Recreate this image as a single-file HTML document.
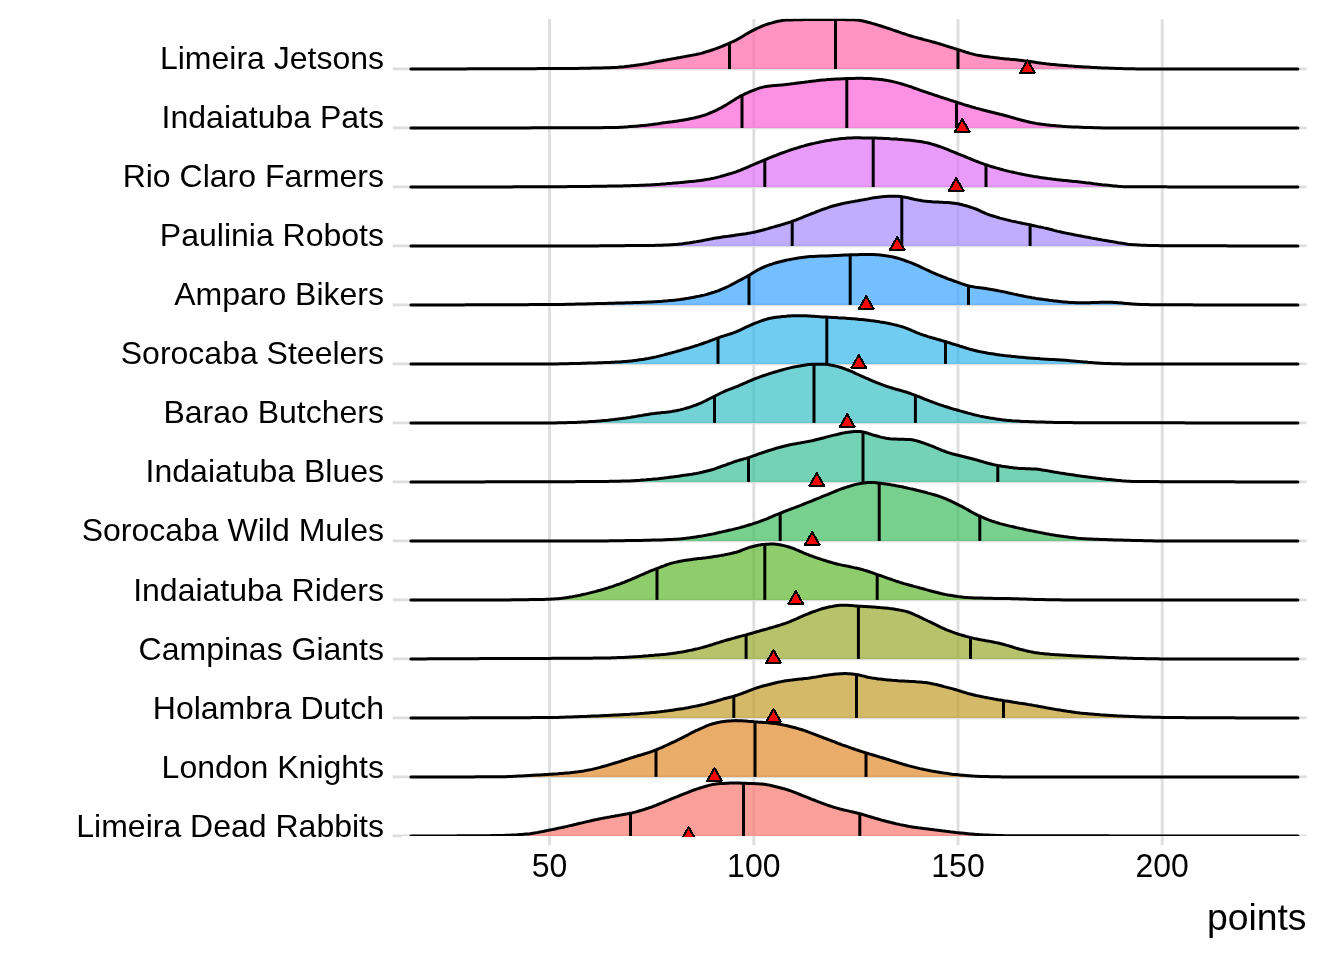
<!DOCTYPE html>
<html lang="en"><head><meta charset="utf-8"><title>points by team</title>
<style>html,body{margin:0;padding:0;background:#fff}body{width:1344px;height:960px;overflow:hidden}svg{display:block}text{font-family:"Liberation Sans",sans-serif;fill:#000}.yl{font-size:32px;text-anchor:end}.xl{font-size:32px;text-anchor:middle}.xt{font-size:37.33px;text-anchor:end}.g{stroke:#dedede;stroke-width:2.85;fill:none}.k{stroke:#000;stroke-width:3.0;fill:none;stroke-linejoin:round;stroke-linecap:butt}.t{fill:#f00;stroke:#000;stroke-width:2.1;stroke-linejoin:round}.kr{stroke-linecap:round}</style></head><body>
<svg width="1344" height="960" viewBox="0 0 1344 960">
<rect width="1344" height="960" fill="#fff"/>
<defs><clipPath id="p"><rect x="402.0" y="18.67" width="904.75" height="817.3"/></clipPath><clipPath id="q"><rect x="402.0" y="18" width="904.75" height="819"/></clipPath></defs>
<path class="g" d="M549.5 836 V845.3"/>
<path class="g" d="M753.8 836 V845.3"/>
<path class="g" d="M958 836 V845.3"/>
<path class="g" d="M1162.2 836 V845.3"/>
<path class="g" d="M392.7 68.9 H402"/>
<path class="g" d="M392.7 127.9 H402"/>
<path class="g" d="M392.7 186.9 H402"/>
<path class="g" d="M392.7 245.9 H402"/>
<path class="g" d="M392.7 304.9 H402"/>
<path class="g" d="M392.7 363.9 H402"/>
<path class="g" d="M392.7 422.9 H402"/>
<path class="g" d="M392.7 481.9 H402"/>
<path class="g" d="M392.7 540.9 H402"/>
<path class="g" d="M392.7 599.9 H402"/>
<path class="g" d="M392.7 658.9 H402"/>
<path class="g" d="M392.7 717.9 H402"/>
<path class="g" d="M392.7 776.9 H402"/>
<path class="g" d="M392.7 835.9 H402"/>
<g clip-path="url(#p)">
<path class="g" d="M549.5 18.7 V836"/>
<path class="g" d="M753.8 18.7 V836"/>
<path class="g" d="M958 18.7 V836"/>
<path class="g" d="M1162.2 18.7 V836"/>
<path class="g" d="M402 68.9 H1306.8"/>
<path class="g" d="M402 127.9 H1306.8"/>
<path class="g" d="M402 186.9 H1306.8"/>
<path class="g" d="M402 245.9 H1306.8"/>
<path class="g" d="M402 304.9 H1306.8"/>
<path class="g" d="M402 363.9 H1306.8"/>
<path class="g" d="M402 422.9 H1306.8"/>
<path class="g" d="M402 481.9 H1306.8"/>
<path class="g" d="M402 540.9 H1306.8"/>
<path class="g" d="M402 599.9 H1306.8"/>
<path class="g" d="M402 658.9 H1306.8"/>
<path class="g" d="M402 717.9 H1306.8"/>
<path class="g" d="M402 776.9 H1306.8"/>
<path class="g" d="M402 835.9 H1306.8"/>
<g>
<path d="M410.9 68.9 L454 68.9 L456 68.9 L458 68.9 L460 68.9 L462 68.9 L464 68.9 L466 68.9 L468 68.8 L470 68.8 L472 68.8 L474 68.8 L476 68.8 L478 68.8 L480 68.8 L482 68.8 L484 68.8 L486 68.8 L488 68.8 L490 68.8 L492 68.8 L494 68.8 L496 68.8 L498 68.8 L500 68.8 L502 68.8 L504 68.8 L506 68.8 L508 68.8 L510 68.7 L512 68.7 L514 68.7 L516 68.7 L518 68.7 L520 68.7 L522 68.7 L524 68.7 L526 68.7 L528 68.7 L530 68.7 L532 68.7 L534 68.7 L536 68.7 L538 68.6 L540 68.6 L542 68.6 L544 68.6 L546 68.6 L548 68.6 L550 68.6 L552 68.6 L554 68.6 L556 68.6 L558 68.6 L560 68.5 L562 68.5 L564 68.5 L566 68.5 L568 68.5 L570 68.5 L572 68.4 L574 68.4 L576 68.4 L578 68.4 L580 68.3 L582 68.3 L584 68.3 L586 68.2 L588 68.2 L590 68.2 L592 68.1 L594 68.1 L596 68 L598 68 L600 67.9 L602 67.9 L604 67.8 L606 67.8 L608 67.7 L610 67.7 L612 67.6 L614 67.5 L616 67.4 L618 67.3 L620 67.1 L622 67 L624 66.8 L626 66.5 L628 66.3 L630 66.1 L632 65.8 L634 65.6 L636 65.3 L638 65 L640 64.7 L642 64.4 L644 64.1 L646 63.7 L648 63.4 L650 63 L652 62.6 L654 62.2 L656 61.8 L658 61.4 L660 61.1 L662 60.7 L664 60.3 L666 60 L668 59.6 L670 59.3 L672 58.9 L674 58.6 L676 58.2 L678 57.8 L680 57.5 L682 57.1 L684 56.8 L686 56.4 L688 56 L690 55.6 L692 55.3 L694 54.9 L696 54.5 L698 54 L700 53.6 L702 53.1 L704 52.5 L706 51.9 L708 51.3 L710 50.7 L712 50 L714 49.3 L716 48.6 L718 47.9 L720 47.1 L722 46.3 L724 45.5 L726 44.7 L728 43.8 L730 42.9 L732 42 L734 41.1 L736 40.1 L738 39 L740 37.9 L742 36.7 L744 35.5 L746 34.3 L748 33.1 L750 32 L752 30.9 L754 29.9 L756 28.9 L758 28 L760 27.1 L762 26.2 L764 25.4 L766 24.7 L768 24 L770 23.4 L772 22.9 L774 22.3 L776 21.8 L778 21.3 L780 20.9 L782 20.6 L784 20.3 L786 20.1 L788 20 L790 20 L792 19.9 L794 19.8 L796 19.8 L798 19.7 L800 19.7 L802 19.7 L804 19.6 L806 19.6 L808 19.6 L810 19.6 L812 19.6 L814 19.6 L816 19.6 L818 19.6 L820 19.6 L822 19.6 L824 19.6 L826 19.6 L828 19.6 L830 19.6 L832 19.6 L834 19.6 L836 19.6 L838 19.6 L840 19.6 L842 19.6 L844 19.6 L846 19.7 L848 19.7 L850 19.7 L852 19.8 L854 19.8 L856 19.9 L858 20.1 L860 20.4 L862 20.7 L864 21.2 L866 21.7 L868 22.3 L870 22.8 L872 23.4 L874 23.9 L876 24.5 L878 25.1 L880 25.7 L882 26.3 L884 27 L886 27.6 L888 28.3 L890 28.9 L892 29.6 L894 30.3 L896 31 L898 31.7 L900 32.4 L902 33.1 L904 33.7 L906 34.4 L908 35.1 L910 35.7 L912 36.3 L914 36.9 L916 37.4 L918 38 L920 38.5 L922 39 L924 39.6 L926 40.1 L928 40.6 L930 41.1 L932 41.7 L934 42.2 L936 42.8 L938 43.4 L940 44 L942 44.6 L944 45.2 L946 45.9 L948 46.5 L950 47.1 L952 47.7 L954 48.4 L956 49 L958 49.6 L960 50.2 L962 50.9 L964 51.5 L966 52.2 L968 52.8 L970 53.4 L972 53.9 L974 54.4 L976 54.9 L978 55.3 L980 55.6 L982 55.9 L984 56.2 L986 56.5 L988 56.8 L990 57.1 L992 57.3 L994 57.6 L996 57.8 L998 58 L1000 58.3 L1002 58.5 L1004 58.7 L1006 58.9 L1008 59.1 L1010 59.3 L1012 59.4 L1014 59.6 L1016 59.8 L1018 60 L1020 60.2 L1022 60.4 L1024 60.7 L1026 60.9 L1028 61.2 L1030 61.5 L1032 61.8 L1034 62.1 L1036 62.4 L1038 62.7 L1040 63 L1042 63.3 L1044 63.5 L1046 63.8 L1048 64 L1050 64.2 L1052 64.4 L1054 64.6 L1056 64.8 L1058 65 L1060 65.2 L1062 65.3 L1064 65.5 L1066 65.6 L1068 65.8 L1070 65.9 L1072 66.1 L1074 66.2 L1076 66.4 L1078 66.5 L1080 66.7 L1082 66.8 L1084 66.9 L1086 67 L1088 67.1 L1090 67.2 L1092 67.4 L1094 67.5 L1096 67.6 L1098 67.7 L1100 67.8 L1102 67.9 L1104 67.9 L1106 68 L1108 68.1 L1110 68.2 L1112 68.3 L1114 68.3 L1116 68.4 L1118 68.5 L1120 68.6 L1122 68.6 L1124 68.7 L1126 68.7 L1128 68.8 L1130 68.8 L1132 68.8 L1134 68.8 L1136 68.9 L1138 68.9 L1140 68.9 L1142 68.9 L1144 68.9 L1146 68.9 L1148 68.9 L1150 68.9 L1152 68.9 L1154 68.9 L1156 68.9 L1158 68.9 L1160 68.9 L1162 68.9 L1164 68.9 L1297.9 68.9 L1297.9 68.9 L410.9 68.9 Z" fill="#FF66A8" fill-opacity="0.7"/>
<path class="k" d="M729.5 68.9 V43.1"/>
<path class="k" d="M835.5 68.9 V19.6"/>
<path class="k" d="M958 68.9 V49.6"/>
<path class="k kr" d="M410.9 68.9 L454 68.9 L456 68.9 L458 68.9 L460 68.9 L462 68.9 L464 68.9 L466 68.9 L468 68.8 L470 68.8 L472 68.8 L474 68.8 L476 68.8 L478 68.8 L480 68.8 L482 68.8 L484 68.8 L486 68.8 L488 68.8 L490 68.8 L492 68.8 L494 68.8 L496 68.8 L498 68.8 L500 68.8 L502 68.8 L504 68.8 L506 68.8 L508 68.8 L510 68.7 L512 68.7 L514 68.7 L516 68.7 L518 68.7 L520 68.7 L522 68.7 L524 68.7 L526 68.7 L528 68.7 L530 68.7 L532 68.7 L534 68.7 L536 68.7 L538 68.6 L540 68.6 L542 68.6 L544 68.6 L546 68.6 L548 68.6 L550 68.6 L552 68.6 L554 68.6 L556 68.6 L558 68.6 L560 68.5 L562 68.5 L564 68.5 L566 68.5 L568 68.5 L570 68.5 L572 68.4 L574 68.4 L576 68.4 L578 68.4 L580 68.3 L582 68.3 L584 68.3 L586 68.2 L588 68.2 L590 68.2 L592 68.1 L594 68.1 L596 68 L598 68 L600 67.9 L602 67.9 L604 67.8 L606 67.8 L608 67.7 L610 67.7 L612 67.6 L614 67.5 L616 67.4 L618 67.3 L620 67.1 L622 67 L624 66.8 L626 66.5 L628 66.3 L630 66.1 L632 65.8 L634 65.6 L636 65.3 L638 65 L640 64.7 L642 64.4 L644 64.1 L646 63.7 L648 63.4 L650 63 L652 62.6 L654 62.2 L656 61.8 L658 61.4 L660 61.1 L662 60.7 L664 60.3 L666 60 L668 59.6 L670 59.3 L672 58.9 L674 58.6 L676 58.2 L678 57.8 L680 57.5 L682 57.1 L684 56.8 L686 56.4 L688 56 L690 55.6 L692 55.3 L694 54.9 L696 54.5 L698 54 L700 53.6 L702 53.1 L704 52.5 L706 51.9 L708 51.3 L710 50.7 L712 50 L714 49.3 L716 48.6 L718 47.9 L720 47.1 L722 46.3 L724 45.5 L726 44.7 L728 43.8 L730 42.9 L732 42 L734 41.1 L736 40.1 L738 39 L740 37.9 L742 36.7 L744 35.5 L746 34.3 L748 33.1 L750 32 L752 30.9 L754 29.9 L756 28.9 L758 28 L760 27.1 L762 26.2 L764 25.4 L766 24.7 L768 24 L770 23.4 L772 22.9 L774 22.3 L776 21.8 L778 21.3 L780 20.9 L782 20.6 L784 20.3 L786 20.1 L788 20 L790 20 L792 19.9 L794 19.8 L796 19.8 L798 19.7 L800 19.7 L802 19.7 L804 19.6 L806 19.6 L808 19.6 L810 19.6 L812 19.6 L814 19.6 L816 19.6 L818 19.6 L820 19.6 L822 19.6 L824 19.6 L826 19.6 L828 19.6 L830 19.6 L832 19.6 L834 19.6 L836 19.6 L838 19.6 L840 19.6 L842 19.6 L844 19.6 L846 19.7 L848 19.7 L850 19.7 L852 19.8 L854 19.8 L856 19.9 L858 20.1 L860 20.4 L862 20.7 L864 21.2 L866 21.7 L868 22.3 L870 22.8 L872 23.4 L874 23.9 L876 24.5 L878 25.1 L880 25.7 L882 26.3 L884 27 L886 27.6 L888 28.3 L890 28.9 L892 29.6 L894 30.3 L896 31 L898 31.7 L900 32.4 L902 33.1 L904 33.7 L906 34.4 L908 35.1 L910 35.7 L912 36.3 L914 36.9 L916 37.4 L918 38 L920 38.5 L922 39 L924 39.6 L926 40.1 L928 40.6 L930 41.1 L932 41.7 L934 42.2 L936 42.8 L938 43.4 L940 44 L942 44.6 L944 45.2 L946 45.9 L948 46.5 L950 47.1 L952 47.7 L954 48.4 L956 49 L958 49.6 L960 50.2 L962 50.9 L964 51.5 L966 52.2 L968 52.8 L970 53.4 L972 53.9 L974 54.4 L976 54.9 L978 55.3 L980 55.6 L982 55.9 L984 56.2 L986 56.5 L988 56.8 L990 57.1 L992 57.3 L994 57.6 L996 57.8 L998 58 L1000 58.3 L1002 58.5 L1004 58.7 L1006 58.9 L1008 59.1 L1010 59.3 L1012 59.4 L1014 59.6 L1016 59.8 L1018 60 L1020 60.2 L1022 60.4 L1024 60.7 L1026 60.9 L1028 61.2 L1030 61.5 L1032 61.8 L1034 62.1 L1036 62.4 L1038 62.7 L1040 63 L1042 63.3 L1044 63.5 L1046 63.8 L1048 64 L1050 64.2 L1052 64.4 L1054 64.6 L1056 64.8 L1058 65 L1060 65.2 L1062 65.3 L1064 65.5 L1066 65.6 L1068 65.8 L1070 65.9 L1072 66.1 L1074 66.2 L1076 66.4 L1078 66.5 L1080 66.7 L1082 66.8 L1084 66.9 L1086 67 L1088 67.1 L1090 67.2 L1092 67.4 L1094 67.5 L1096 67.6 L1098 67.7 L1100 67.8 L1102 67.9 L1104 67.9 L1106 68 L1108 68.1 L1110 68.2 L1112 68.3 L1114 68.3 L1116 68.4 L1118 68.5 L1120 68.6 L1122 68.6 L1124 68.7 L1126 68.7 L1128 68.8 L1130 68.8 L1132 68.8 L1134 68.8 L1136 68.9 L1138 68.9 L1140 68.9 L1142 68.9 L1144 68.9 L1146 68.9 L1148 68.9 L1150 68.9 L1152 68.9 L1154 68.9 L1156 68.9 L1158 68.9 L1160 68.9 L1162 68.9 L1164 68.9 L1297.9 68.9"/>
</g>
<g>
<path d="M410.9 127.9 L504 127.9 L506 127.9 L508 127.9 L510 127.9 L512 127.9 L514 127.9 L516 127.9 L518 127.9 L520 127.9 L522 127.9 L524 127.9 L526 127.9 L528 127.9 L530 127.9 L532 127.8 L534 127.8 L536 127.8 L538 127.8 L540 127.8 L542 127.8 L544 127.8 L546 127.8 L548 127.8 L550 127.8 L552 127.8 L554 127.8 L556 127.8 L558 127.8 L560 127.8 L562 127.8 L564 127.8 L566 127.8 L568 127.8 L570 127.8 L572 127.8 L574 127.8 L576 127.8 L578 127.8 L580 127.8 L582 127.8 L584 127.8 L586 127.8 L588 127.8 L590 127.7 L592 127.7 L594 127.7 L596 127.7 L598 127.7 L600 127.7 L602 127.7 L604 127.6 L606 127.6 L608 127.6 L610 127.6 L612 127.6 L614 127.5 L616 127.5 L618 127.4 L620 127.3 L622 127.2 L624 127.1 L626 126.9 L628 126.8 L630 126.6 L632 126.5 L634 126.3 L636 126.2 L638 126 L640 125.8 L642 125.6 L644 125.4 L646 125.2 L648 125 L650 124.7 L652 124.5 L654 124.2 L656 123.9 L658 123.7 L660 123.4 L662 123.1 L664 122.8 L666 122.6 L668 122.3 L670 122 L672 121.8 L674 121.5 L676 121.2 L678 120.9 L680 120.6 L682 120.2 L684 119.9 L686 119.6 L688 119.2 L690 118.8 L692 118.4 L694 118 L696 117.5 L698 117 L700 116.5 L702 115.9 L704 115.3 L706 114.6 L708 113.8 L710 113 L712 112.2 L714 111.3 L716 110.4 L718 109.4 L720 108.3 L722 107.3 L724 106.1 L726 105 L728 103.8 L730 102.5 L732 101.2 L734 100 L736 98.7 L738 97.5 L740 96.4 L742 95.4 L744 94.4 L746 93.4 L748 92.6 L750 91.7 L752 90.9 L754 90.1 L756 89.3 L758 88.6 L760 87.9 L762 87.4 L764 86.9 L766 86.5 L768 86.2 L770 85.9 L772 85.7 L774 85.5 L776 85.4 L778 85.2 L780 85.1 L782 84.9 L784 84.7 L786 84.5 L788 84.3 L790 84.1 L792 83.8 L794 83.6 L796 83.3 L798 83 L800 82.7 L802 82.4 L804 82.2 L806 81.9 L808 81.7 L810 81.4 L812 81.2 L814 81 L816 80.8 L818 80.5 L820 80.3 L822 80.1 L824 79.9 L826 79.8 L828 79.6 L830 79.4 L832 79.3 L834 79.2 L836 79.1 L838 79 L840 78.9 L842 78.8 L844 78.7 L846 78.6 L848 78.6 L850 78.5 L852 78.4 L854 78.4 L856 78.3 L858 78.3 L860 78.3 L862 78.3 L864 78.4 L866 78.4 L868 78.5 L870 78.6 L872 78.7 L874 78.9 L876 79.1 L878 79.2 L880 79.4 L882 79.6 L884 79.9 L886 80.2 L888 80.6 L890 81 L892 81.4 L894 81.9 L896 82.4 L898 82.9 L900 83.4 L902 84 L904 84.6 L906 85.2 L908 85.9 L910 86.5 L912 87.2 L914 88 L916 88.7 L918 89.4 L920 90.1 L922 90.8 L924 91.5 L926 92.1 L928 92.8 L930 93.5 L932 94.1 L934 94.8 L936 95.5 L938 96.1 L940 96.8 L942 97.5 L944 98.1 L946 98.8 L948 99.4 L950 100.1 L952 100.7 L954 101.4 L956 102 L958 102.7 L960 103.3 L962 103.9 L964 104.6 L966 105.2 L968 105.8 L970 106.4 L972 107 L974 107.5 L976 108.1 L978 108.6 L980 109.1 L982 109.7 L984 110.2 L986 110.7 L988 111.2 L990 111.7 L992 112.2 L994 112.7 L996 113.2 L998 113.7 L1000 114.2 L1002 114.7 L1004 115.2 L1006 115.8 L1008 116.3 L1010 116.9 L1012 117.5 L1014 118 L1016 118.6 L1018 119.2 L1020 119.8 L1022 120.3 L1024 120.8 L1026 121.3 L1028 121.7 L1030 122.2 L1032 122.6 L1034 123 L1036 123.4 L1038 123.7 L1040 124 L1042 124.3 L1044 124.5 L1046 124.8 L1048 125 L1050 125.2 L1052 125.4 L1054 125.6 L1056 125.8 L1058 126 L1060 126.1 L1062 126.3 L1064 126.4 L1066 126.6 L1068 126.7 L1070 126.8 L1072 126.9 L1074 127 L1076 127 L1078 127.1 L1080 127.2 L1082 127.3 L1084 127.4 L1086 127.4 L1088 127.5 L1090 127.6 L1092 127.6 L1094 127.7 L1096 127.7 L1098 127.8 L1100 127.8 L1102 127.9 L1104 127.9 L1297.9 127.9 L1297.9 127.9 L410.9 127.9 Z" fill="#FB61D7" fill-opacity="0.7"/>
<path class="k" d="M742 127.9 V95.4"/>
<path class="k" d="M846.8 127.9 V78.6"/>
<path class="k" d="M956.5 127.9 V102.2"/>
<path class="k kr" d="M410.9 127.9 L504 127.9 L506 127.9 L508 127.9 L510 127.9 L512 127.9 L514 127.9 L516 127.9 L518 127.9 L520 127.9 L522 127.9 L524 127.9 L526 127.9 L528 127.9 L530 127.9 L532 127.8 L534 127.8 L536 127.8 L538 127.8 L540 127.8 L542 127.8 L544 127.8 L546 127.8 L548 127.8 L550 127.8 L552 127.8 L554 127.8 L556 127.8 L558 127.8 L560 127.8 L562 127.8 L564 127.8 L566 127.8 L568 127.8 L570 127.8 L572 127.8 L574 127.8 L576 127.8 L578 127.8 L580 127.8 L582 127.8 L584 127.8 L586 127.8 L588 127.8 L590 127.7 L592 127.7 L594 127.7 L596 127.7 L598 127.7 L600 127.7 L602 127.7 L604 127.6 L606 127.6 L608 127.6 L610 127.6 L612 127.6 L614 127.5 L616 127.5 L618 127.4 L620 127.3 L622 127.2 L624 127.1 L626 126.9 L628 126.8 L630 126.6 L632 126.5 L634 126.3 L636 126.2 L638 126 L640 125.8 L642 125.6 L644 125.4 L646 125.2 L648 125 L650 124.7 L652 124.5 L654 124.2 L656 123.9 L658 123.7 L660 123.4 L662 123.1 L664 122.8 L666 122.6 L668 122.3 L670 122 L672 121.8 L674 121.5 L676 121.2 L678 120.9 L680 120.6 L682 120.2 L684 119.9 L686 119.6 L688 119.2 L690 118.8 L692 118.4 L694 118 L696 117.5 L698 117 L700 116.5 L702 115.9 L704 115.3 L706 114.6 L708 113.8 L710 113 L712 112.2 L714 111.3 L716 110.4 L718 109.4 L720 108.3 L722 107.3 L724 106.1 L726 105 L728 103.8 L730 102.5 L732 101.2 L734 100 L736 98.7 L738 97.5 L740 96.4 L742 95.4 L744 94.4 L746 93.4 L748 92.6 L750 91.7 L752 90.9 L754 90.1 L756 89.3 L758 88.6 L760 87.9 L762 87.4 L764 86.9 L766 86.5 L768 86.2 L770 85.9 L772 85.7 L774 85.5 L776 85.4 L778 85.2 L780 85.1 L782 84.9 L784 84.7 L786 84.5 L788 84.3 L790 84.1 L792 83.8 L794 83.6 L796 83.3 L798 83 L800 82.7 L802 82.4 L804 82.2 L806 81.9 L808 81.7 L810 81.4 L812 81.2 L814 81 L816 80.8 L818 80.5 L820 80.3 L822 80.1 L824 79.9 L826 79.8 L828 79.6 L830 79.4 L832 79.3 L834 79.2 L836 79.1 L838 79 L840 78.9 L842 78.8 L844 78.7 L846 78.6 L848 78.6 L850 78.5 L852 78.4 L854 78.4 L856 78.3 L858 78.3 L860 78.3 L862 78.3 L864 78.4 L866 78.4 L868 78.5 L870 78.6 L872 78.7 L874 78.9 L876 79.1 L878 79.2 L880 79.4 L882 79.6 L884 79.9 L886 80.2 L888 80.6 L890 81 L892 81.4 L894 81.9 L896 82.4 L898 82.9 L900 83.4 L902 84 L904 84.6 L906 85.2 L908 85.9 L910 86.5 L912 87.2 L914 88 L916 88.7 L918 89.4 L920 90.1 L922 90.8 L924 91.5 L926 92.1 L928 92.8 L930 93.5 L932 94.1 L934 94.8 L936 95.5 L938 96.1 L940 96.8 L942 97.5 L944 98.1 L946 98.8 L948 99.4 L950 100.1 L952 100.7 L954 101.4 L956 102 L958 102.7 L960 103.3 L962 103.9 L964 104.6 L966 105.2 L968 105.8 L970 106.4 L972 107 L974 107.5 L976 108.1 L978 108.6 L980 109.1 L982 109.7 L984 110.2 L986 110.7 L988 111.2 L990 111.7 L992 112.2 L994 112.7 L996 113.2 L998 113.7 L1000 114.2 L1002 114.7 L1004 115.2 L1006 115.8 L1008 116.3 L1010 116.9 L1012 117.5 L1014 118 L1016 118.6 L1018 119.2 L1020 119.8 L1022 120.3 L1024 120.8 L1026 121.3 L1028 121.7 L1030 122.2 L1032 122.6 L1034 123 L1036 123.4 L1038 123.7 L1040 124 L1042 124.3 L1044 124.5 L1046 124.8 L1048 125 L1050 125.2 L1052 125.4 L1054 125.6 L1056 125.8 L1058 126 L1060 126.1 L1062 126.3 L1064 126.4 L1066 126.6 L1068 126.7 L1070 126.8 L1072 126.9 L1074 127 L1076 127 L1078 127.1 L1080 127.2 L1082 127.3 L1084 127.4 L1086 127.4 L1088 127.5 L1090 127.6 L1092 127.6 L1094 127.7 L1096 127.7 L1098 127.8 L1100 127.8 L1102 127.9 L1104 127.9 L1297.9 127.9"/>
</g>
<g>
<path d="M410.9 186.9 L492 186.9 L494 186.9 L496 186.9 L498 186.9 L500 186.9 L502 186.9 L504 186.9 L506 186.9 L508 186.9 L510 186.9 L512 186.9 L514 186.8 L516 186.8 L518 186.8 L520 186.8 L522 186.8 L524 186.8 L526 186.8 L528 186.8 L530 186.8 L532 186.8 L534 186.8 L536 186.8 L538 186.8 L540 186.8 L542 186.8 L544 186.8 L546 186.8 L548 186.8 L550 186.8 L552 186.8 L554 186.8 L556 186.8 L558 186.8 L560 186.7 L562 186.7 L564 186.7 L566 186.7 L568 186.6 L570 186.6 L572 186.6 L574 186.6 L576 186.5 L578 186.5 L580 186.5 L582 186.5 L584 186.4 L586 186.4 L588 186.4 L590 186.4 L592 186.3 L594 186.3 L596 186.3 L598 186.3 L600 186.2 L602 186.2 L604 186.2 L606 186.2 L608 186.1 L610 186.1 L612 186.1 L614 186 L616 186 L618 185.9 L620 185.9 L622 185.9 L624 185.8 L626 185.8 L628 185.7 L630 185.7 L632 185.6 L634 185.6 L636 185.5 L638 185.4 L640 185.3 L642 185.3 L644 185.2 L646 185.1 L648 185 L650 184.9 L652 184.8 L654 184.7 L656 184.5 L658 184.4 L660 184.3 L662 184.1 L664 183.9 L666 183.8 L668 183.6 L670 183.4 L672 183.3 L674 183.1 L676 182.9 L678 182.7 L680 182.6 L682 182.4 L684 182.2 L686 182 L688 181.8 L690 181.6 L692 181.4 L694 181.2 L696 181 L698 180.7 L700 180.5 L702 180.2 L704 179.9 L706 179.6 L708 179.2 L710 178.9 L712 178.5 L714 178.1 L716 177.6 L718 177.1 L720 176.6 L722 176 L724 175.5 L726 174.9 L728 174.3 L730 173.7 L732 173.1 L734 172.5 L736 171.8 L738 171 L740 170.3 L742 169.5 L744 168.7 L746 167.8 L748 167 L750 166.1 L752 165.2 L754 164.4 L756 163.5 L758 162.7 L760 161.8 L762 161 L764 160.1 L766 159.3 L768 158.5 L770 157.7 L772 156.8 L774 156 L776 155.3 L778 154.5 L780 153.7 L782 153 L784 152.3 L786 151.6 L788 150.9 L790 150.2 L792 149.5 L794 148.9 L796 148.3 L798 147.6 L800 147 L802 146.4 L804 145.9 L806 145.3 L808 144.8 L810 144.3 L812 143.8 L814 143.4 L816 142.9 L818 142.5 L820 142 L822 141.6 L824 141.2 L826 140.8 L828 140.5 L830 140.2 L832 139.8 L834 139.6 L836 139.3 L838 139.1 L840 138.8 L842 138.6 L844 138.4 L846 138.2 L848 138 L850 137.9 L852 137.9 L854 137.8 L856 137.8 L858 137.8 L860 137.8 L862 137.9 L864 137.9 L866 137.9 L868 137.9 L870 138 L872 138 L874 138.1 L876 138.1 L878 138.2 L880 138.3 L882 138.3 L884 138.4 L886 138.5 L888 138.6 L890 138.8 L892 138.9 L894 139 L896 139.1 L898 139.3 L900 139.4 L902 139.6 L904 139.7 L906 139.9 L908 140.1 L910 140.3 L912 140.5 L914 140.7 L916 141 L918 141.2 L920 141.5 L922 141.8 L924 142.2 L926 142.6 L928 143 L930 143.5 L932 144.1 L934 144.7 L936 145.3 L938 146 L940 146.7 L942 147.4 L944 148.1 L946 148.9 L948 149.7 L950 150.6 L952 151.4 L954 152.2 L956 153 L958 153.8 L960 154.6 L962 155.4 L964 156.2 L966 157 L968 157.9 L970 158.7 L972 159.5 L974 160.3 L976 161.1 L978 161.9 L980 162.7 L982 163.4 L984 164.1 L986 164.8 L988 165.4 L990 166.1 L992 166.7 L994 167.3 L996 167.9 L998 168.4 L1000 169 L1002 169.5 L1004 170.1 L1006 170.6 L1008 171.1 L1010 171.6 L1012 172 L1014 172.5 L1016 172.9 L1018 173.4 L1020 173.8 L1022 174.2 L1024 174.6 L1026 175 L1028 175.4 L1030 175.8 L1032 176.1 L1034 176.5 L1036 176.8 L1038 177.1 L1040 177.4 L1042 177.7 L1044 178 L1046 178.3 L1048 178.6 L1050 178.8 L1052 179.1 L1054 179.3 L1056 179.6 L1058 179.8 L1060 180 L1062 180.2 L1064 180.4 L1066 180.6 L1068 180.8 L1070 181 L1072 181.2 L1074 181.4 L1076 181.6 L1078 181.8 L1080 182 L1082 182.2 L1084 182.4 L1086 182.7 L1088 182.9 L1090 183.1 L1092 183.4 L1094 183.7 L1096 183.9 L1098 184.2 L1100 184.4 L1102 184.7 L1104 184.9 L1106 185.1 L1108 185.3 L1110 185.5 L1112 185.7 L1114 185.9 L1116 186.1 L1118 186.3 L1120 186.4 L1122 186.6 L1124 186.7 L1126 186.7 L1128 186.8 L1130 186.8 L1132 186.8 L1134 186.8 L1136 186.8 L1138 186.8 L1140 186.8 L1142 186.8 L1144 186.8 L1146 186.8 L1148 186.8 L1150 186.8 L1152 186.8 L1154 186.8 L1156 186.8 L1158 186.8 L1160 186.8 L1162 186.8 L1164 186.8 L1166 186.8 L1168 186.9 L1170 186.9 L1172 186.9 L1174 186.9 L1176 186.9 L1178 186.9 L1180 186.9 L1182 186.9 L1184 186.9 L1186 186.9 L1188 186.9 L1190 186.9 L1192 186.9 L1297.9 186.9 L1297.9 186.9 L410.9 186.9 Z" fill="#DF70F8" fill-opacity="0.7"/>
<path class="k" d="M764.8 186.9 V159.8"/>
<path class="k" d="M873.2 186.9 V138"/>
<path class="k" d="M986 186.9 V164.8"/>
<path class="k kr" d="M410.9 186.9 L492 186.9 L494 186.9 L496 186.9 L498 186.9 L500 186.9 L502 186.9 L504 186.9 L506 186.9 L508 186.9 L510 186.9 L512 186.9 L514 186.8 L516 186.8 L518 186.8 L520 186.8 L522 186.8 L524 186.8 L526 186.8 L528 186.8 L530 186.8 L532 186.8 L534 186.8 L536 186.8 L538 186.8 L540 186.8 L542 186.8 L544 186.8 L546 186.8 L548 186.8 L550 186.8 L552 186.8 L554 186.8 L556 186.8 L558 186.8 L560 186.7 L562 186.7 L564 186.7 L566 186.7 L568 186.6 L570 186.6 L572 186.6 L574 186.6 L576 186.5 L578 186.5 L580 186.5 L582 186.5 L584 186.4 L586 186.4 L588 186.4 L590 186.4 L592 186.3 L594 186.3 L596 186.3 L598 186.3 L600 186.2 L602 186.2 L604 186.2 L606 186.2 L608 186.1 L610 186.1 L612 186.1 L614 186 L616 186 L618 185.9 L620 185.9 L622 185.9 L624 185.8 L626 185.8 L628 185.7 L630 185.7 L632 185.6 L634 185.6 L636 185.5 L638 185.4 L640 185.3 L642 185.3 L644 185.2 L646 185.1 L648 185 L650 184.9 L652 184.8 L654 184.7 L656 184.5 L658 184.4 L660 184.3 L662 184.1 L664 183.9 L666 183.8 L668 183.6 L670 183.4 L672 183.3 L674 183.1 L676 182.9 L678 182.7 L680 182.6 L682 182.4 L684 182.2 L686 182 L688 181.8 L690 181.6 L692 181.4 L694 181.2 L696 181 L698 180.7 L700 180.5 L702 180.2 L704 179.9 L706 179.6 L708 179.2 L710 178.9 L712 178.5 L714 178.1 L716 177.6 L718 177.1 L720 176.6 L722 176 L724 175.5 L726 174.9 L728 174.3 L730 173.7 L732 173.1 L734 172.5 L736 171.8 L738 171 L740 170.3 L742 169.5 L744 168.7 L746 167.8 L748 167 L750 166.1 L752 165.2 L754 164.4 L756 163.5 L758 162.7 L760 161.8 L762 161 L764 160.1 L766 159.3 L768 158.5 L770 157.7 L772 156.8 L774 156 L776 155.3 L778 154.5 L780 153.7 L782 153 L784 152.3 L786 151.6 L788 150.9 L790 150.2 L792 149.5 L794 148.9 L796 148.3 L798 147.6 L800 147 L802 146.4 L804 145.9 L806 145.3 L808 144.8 L810 144.3 L812 143.8 L814 143.4 L816 142.9 L818 142.5 L820 142 L822 141.6 L824 141.2 L826 140.8 L828 140.5 L830 140.2 L832 139.8 L834 139.6 L836 139.3 L838 139.1 L840 138.8 L842 138.6 L844 138.4 L846 138.2 L848 138 L850 137.9 L852 137.9 L854 137.8 L856 137.8 L858 137.8 L860 137.8 L862 137.9 L864 137.9 L866 137.9 L868 137.9 L870 138 L872 138 L874 138.1 L876 138.1 L878 138.2 L880 138.3 L882 138.3 L884 138.4 L886 138.5 L888 138.6 L890 138.8 L892 138.9 L894 139 L896 139.1 L898 139.3 L900 139.4 L902 139.6 L904 139.7 L906 139.9 L908 140.1 L910 140.3 L912 140.5 L914 140.7 L916 141 L918 141.2 L920 141.5 L922 141.8 L924 142.2 L926 142.6 L928 143 L930 143.5 L932 144.1 L934 144.7 L936 145.3 L938 146 L940 146.7 L942 147.4 L944 148.1 L946 148.9 L948 149.7 L950 150.6 L952 151.4 L954 152.2 L956 153 L958 153.8 L960 154.6 L962 155.4 L964 156.2 L966 157 L968 157.9 L970 158.7 L972 159.5 L974 160.3 L976 161.1 L978 161.9 L980 162.7 L982 163.4 L984 164.1 L986 164.8 L988 165.4 L990 166.1 L992 166.7 L994 167.3 L996 167.9 L998 168.4 L1000 169 L1002 169.5 L1004 170.1 L1006 170.6 L1008 171.1 L1010 171.6 L1012 172 L1014 172.5 L1016 172.9 L1018 173.4 L1020 173.8 L1022 174.2 L1024 174.6 L1026 175 L1028 175.4 L1030 175.8 L1032 176.1 L1034 176.5 L1036 176.8 L1038 177.1 L1040 177.4 L1042 177.7 L1044 178 L1046 178.3 L1048 178.6 L1050 178.8 L1052 179.1 L1054 179.3 L1056 179.6 L1058 179.8 L1060 180 L1062 180.2 L1064 180.4 L1066 180.6 L1068 180.8 L1070 181 L1072 181.2 L1074 181.4 L1076 181.6 L1078 181.8 L1080 182 L1082 182.2 L1084 182.4 L1086 182.7 L1088 182.9 L1090 183.1 L1092 183.4 L1094 183.7 L1096 183.9 L1098 184.2 L1100 184.4 L1102 184.7 L1104 184.9 L1106 185.1 L1108 185.3 L1110 185.5 L1112 185.7 L1114 185.9 L1116 186.1 L1118 186.3 L1120 186.4 L1122 186.6 L1124 186.7 L1126 186.7 L1128 186.8 L1130 186.8 L1132 186.8 L1134 186.8 L1136 186.8 L1138 186.8 L1140 186.8 L1142 186.8 L1144 186.8 L1146 186.8 L1148 186.8 L1150 186.8 L1152 186.8 L1154 186.8 L1156 186.8 L1158 186.8 L1160 186.8 L1162 186.8 L1164 186.8 L1166 186.8 L1168 186.9 L1170 186.9 L1172 186.9 L1174 186.9 L1176 186.9 L1178 186.9 L1180 186.9 L1182 186.9 L1184 186.9 L1186 186.9 L1188 186.9 L1190 186.9 L1192 186.9 L1297.9 186.9"/>
</g>
<g>
<path d="M410.9 245.9 L564 245.9 L566 245.9 L568 245.9 L570 245.9 L572 245.9 L574 245.9 L576 245.9 L578 245.9 L580 245.9 L582 245.9 L584 245.9 L586 245.9 L588 245.9 L590 245.9 L592 245.9 L594 245.9 L596 245.9 L598 245.9 L600 245.8 L602 245.8 L604 245.8 L606 245.8 L608 245.8 L610 245.8 L612 245.8 L614 245.8 L616 245.7 L618 245.7 L620 245.7 L622 245.7 L624 245.7 L626 245.6 L628 245.6 L630 245.6 L632 245.6 L634 245.6 L636 245.6 L638 245.6 L640 245.5 L642 245.5 L644 245.5 L646 245.5 L648 245.5 L650 245.4 L652 245.4 L654 245.4 L656 245.3 L658 245.3 L660 245.2 L662 245.2 L664 245.1 L666 245 L668 244.9 L670 244.8 L672 244.7 L674 244.6 L676 244.5 L678 244.3 L680 244.1 L682 243.9 L684 243.6 L686 243.3 L688 243.1 L690 242.7 L692 242.4 L694 242.1 L696 241.8 L698 241.4 L700 241.1 L702 240.7 L704 240.3 L706 239.9 L708 239.5 L710 239.1 L712 238.7 L714 238.3 L716 238 L718 237.7 L720 237.4 L722 237.1 L724 236.8 L726 236.5 L728 236.3 L730 236 L732 235.7 L734 235.4 L736 235.1 L738 234.8 L740 234.6 L742 234.3 L744 234 L746 233.7 L748 233.3 L750 233 L752 232.6 L754 232.2 L756 231.8 L758 231.3 L760 230.8 L762 230.3 L764 229.7 L766 229.1 L768 228.6 L770 228 L772 227.4 L774 226.9 L776 226.3 L778 225.8 L780 225.2 L782 224.6 L784 224 L786 223.4 L788 222.8 L790 222.1 L792 221.5 L794 220.7 L796 220 L798 219.2 L800 218.4 L802 217.6 L804 216.7 L806 215.9 L808 215.1 L810 214.3 L812 213.5 L814 212.8 L816 212 L818 211.2 L820 210.5 L822 209.7 L824 209 L826 208.3 L828 207.6 L830 206.9 L832 206.3 L834 205.7 L836 205.2 L838 204.7 L840 204.2 L842 203.7 L844 203.3 L846 202.9 L848 202.5 L850 202.1 L852 201.7 L854 201.4 L856 201 L858 200.7 L860 200.3 L862 200 L864 199.6 L866 199.2 L868 198.9 L870 198.5 L872 198.1 L874 197.8 L876 197.5 L878 197.2 L880 196.9 L882 196.7 L884 196.5 L886 196.4 L888 196.3 L890 196.3 L892 196.2 L894 196.2 L896 196.2 L898 196.3 L900 196.5 L902 196.7 L904 197.1 L906 197.4 L908 197.8 L910 198.3 L912 198.7 L914 199.2 L916 199.6 L918 200 L920 200.3 L922 200.7 L924 201 L926 201.2 L928 201.5 L930 201.6 L932 201.8 L934 201.9 L936 202 L938 202.1 L940 202.2 L942 202.3 L944 202.4 L946 202.5 L948 202.6 L950 202.8 L952 203 L954 203.2 L956 203.5 L958 203.8 L960 204.2 L962 204.7 L964 205.3 L966 205.8 L968 206.4 L970 207 L972 207.6 L974 208.3 L976 209 L978 209.8 L980 210.8 L982 211.8 L984 212.7 L986 213.6 L988 214.3 L990 215.1 L992 215.7 L994 216.3 L996 216.9 L998 217.5 L1000 218.1 L1002 218.6 L1004 219.1 L1006 219.6 L1008 220.1 L1010 220.6 L1012 221.1 L1014 221.5 L1016 221.9 L1018 222.4 L1020 222.8 L1022 223.2 L1024 223.6 L1026 224 L1028 224.4 L1030 224.8 L1032 225.3 L1034 225.7 L1036 226.1 L1038 226.6 L1040 227 L1042 227.4 L1044 227.9 L1046 228.3 L1048 228.8 L1050 229.3 L1052 229.8 L1054 230.4 L1056 230.9 L1058 231.4 L1060 231.8 L1062 232.3 L1064 232.7 L1066 233.1 L1068 233.5 L1070 233.9 L1072 234.3 L1074 234.7 L1076 235.1 L1078 235.5 L1080 235.8 L1082 236.2 L1084 236.6 L1086 237 L1088 237.3 L1090 237.7 L1092 238.1 L1094 238.5 L1096 238.8 L1098 239.2 L1100 239.5 L1102 239.9 L1104 240.2 L1106 240.6 L1108 240.9 L1110 241.2 L1112 241.6 L1114 241.9 L1116 242.3 L1118 242.7 L1120 243 L1122 243.3 L1124 243.6 L1126 243.9 L1128 244.2 L1130 244.4 L1132 244.6 L1134 244.7 L1136 244.8 L1138 244.9 L1140 245.1 L1142 245.2 L1144 245.3 L1146 245.3 L1148 245.4 L1150 245.5 L1152 245.6 L1154 245.6 L1156 245.6 L1158 245.6 L1160 245.7 L1162 245.7 L1164 245.7 L1166 245.7 L1168 245.7 L1170 245.7 L1172 245.7 L1174 245.7 L1176 245.7 L1178 245.7 L1180 245.7 L1182 245.7 L1184 245.7 L1186 245.8 L1188 245.8 L1190 245.8 L1192 245.8 L1194 245.8 L1196 245.8 L1198 245.8 L1200 245.8 L1202 245.8 L1204 245.8 L1206 245.8 L1208 245.8 L1210 245.8 L1212 245.8 L1214 245.8 L1216 245.8 L1218 245.8 L1220 245.8 L1222 245.8 L1224 245.8 L1226 245.8 L1228 245.9 L1230 245.9 L1232 245.9 L1234 245.9 L1236 245.9 L1238 245.9 L1240 245.9 L1242 245.9 L1297.9 245.9 L1297.9 245.9 L410.9 245.9 Z" fill="#A58AFF" fill-opacity="0.7"/>
<path class="k" d="M792.2 245.9 V221.4"/>
<path class="k" d="M901.8 245.9 V196.7"/>
<path class="k" d="M1030.1 245.9 V224.9"/>
<path class="k kr" d="M410.9 245.9 L564 245.9 L566 245.9 L568 245.9 L570 245.9 L572 245.9 L574 245.9 L576 245.9 L578 245.9 L580 245.9 L582 245.9 L584 245.9 L586 245.9 L588 245.9 L590 245.9 L592 245.9 L594 245.9 L596 245.9 L598 245.9 L600 245.8 L602 245.8 L604 245.8 L606 245.8 L608 245.8 L610 245.8 L612 245.8 L614 245.8 L616 245.7 L618 245.7 L620 245.7 L622 245.7 L624 245.7 L626 245.6 L628 245.6 L630 245.6 L632 245.6 L634 245.6 L636 245.6 L638 245.6 L640 245.5 L642 245.5 L644 245.5 L646 245.5 L648 245.5 L650 245.4 L652 245.4 L654 245.4 L656 245.3 L658 245.3 L660 245.2 L662 245.2 L664 245.1 L666 245 L668 244.9 L670 244.8 L672 244.7 L674 244.6 L676 244.5 L678 244.3 L680 244.1 L682 243.9 L684 243.6 L686 243.3 L688 243.1 L690 242.7 L692 242.4 L694 242.1 L696 241.8 L698 241.4 L700 241.1 L702 240.7 L704 240.3 L706 239.9 L708 239.5 L710 239.1 L712 238.7 L714 238.3 L716 238 L718 237.7 L720 237.4 L722 237.1 L724 236.8 L726 236.5 L728 236.3 L730 236 L732 235.7 L734 235.4 L736 235.1 L738 234.8 L740 234.6 L742 234.3 L744 234 L746 233.7 L748 233.3 L750 233 L752 232.6 L754 232.2 L756 231.8 L758 231.3 L760 230.8 L762 230.3 L764 229.7 L766 229.1 L768 228.6 L770 228 L772 227.4 L774 226.9 L776 226.3 L778 225.8 L780 225.2 L782 224.6 L784 224 L786 223.4 L788 222.8 L790 222.1 L792 221.5 L794 220.7 L796 220 L798 219.2 L800 218.4 L802 217.6 L804 216.7 L806 215.9 L808 215.1 L810 214.3 L812 213.5 L814 212.8 L816 212 L818 211.2 L820 210.5 L822 209.7 L824 209 L826 208.3 L828 207.6 L830 206.9 L832 206.3 L834 205.7 L836 205.2 L838 204.7 L840 204.2 L842 203.7 L844 203.3 L846 202.9 L848 202.5 L850 202.1 L852 201.7 L854 201.4 L856 201 L858 200.7 L860 200.3 L862 200 L864 199.6 L866 199.2 L868 198.9 L870 198.5 L872 198.1 L874 197.8 L876 197.5 L878 197.2 L880 196.9 L882 196.7 L884 196.5 L886 196.4 L888 196.3 L890 196.3 L892 196.2 L894 196.2 L896 196.2 L898 196.3 L900 196.5 L902 196.7 L904 197.1 L906 197.4 L908 197.8 L910 198.3 L912 198.7 L914 199.2 L916 199.6 L918 200 L920 200.3 L922 200.7 L924 201 L926 201.2 L928 201.5 L930 201.6 L932 201.8 L934 201.9 L936 202 L938 202.1 L940 202.2 L942 202.3 L944 202.4 L946 202.5 L948 202.6 L950 202.8 L952 203 L954 203.2 L956 203.5 L958 203.8 L960 204.2 L962 204.7 L964 205.3 L966 205.8 L968 206.4 L970 207 L972 207.6 L974 208.3 L976 209 L978 209.8 L980 210.8 L982 211.8 L984 212.7 L986 213.6 L988 214.3 L990 215.1 L992 215.7 L994 216.3 L996 216.9 L998 217.5 L1000 218.1 L1002 218.6 L1004 219.1 L1006 219.6 L1008 220.1 L1010 220.6 L1012 221.1 L1014 221.5 L1016 221.9 L1018 222.4 L1020 222.8 L1022 223.2 L1024 223.6 L1026 224 L1028 224.4 L1030 224.8 L1032 225.3 L1034 225.7 L1036 226.1 L1038 226.6 L1040 227 L1042 227.4 L1044 227.9 L1046 228.3 L1048 228.8 L1050 229.3 L1052 229.8 L1054 230.4 L1056 230.9 L1058 231.4 L1060 231.8 L1062 232.3 L1064 232.7 L1066 233.1 L1068 233.5 L1070 233.9 L1072 234.3 L1074 234.7 L1076 235.1 L1078 235.5 L1080 235.8 L1082 236.2 L1084 236.6 L1086 237 L1088 237.3 L1090 237.7 L1092 238.1 L1094 238.5 L1096 238.8 L1098 239.2 L1100 239.5 L1102 239.9 L1104 240.2 L1106 240.6 L1108 240.9 L1110 241.2 L1112 241.6 L1114 241.9 L1116 242.3 L1118 242.7 L1120 243 L1122 243.3 L1124 243.6 L1126 243.9 L1128 244.2 L1130 244.4 L1132 244.6 L1134 244.7 L1136 244.8 L1138 244.9 L1140 245.1 L1142 245.2 L1144 245.3 L1146 245.3 L1148 245.4 L1150 245.5 L1152 245.6 L1154 245.6 L1156 245.6 L1158 245.6 L1160 245.7 L1162 245.7 L1164 245.7 L1166 245.7 L1168 245.7 L1170 245.7 L1172 245.7 L1174 245.7 L1176 245.7 L1178 245.7 L1180 245.7 L1182 245.7 L1184 245.7 L1186 245.8 L1188 245.8 L1190 245.8 L1192 245.8 L1194 245.8 L1196 245.8 L1198 245.8 L1200 245.8 L1202 245.8 L1204 245.8 L1206 245.8 L1208 245.8 L1210 245.8 L1212 245.8 L1214 245.8 L1216 245.8 L1218 245.8 L1220 245.8 L1222 245.8 L1224 245.8 L1226 245.8 L1228 245.9 L1230 245.9 L1232 245.9 L1234 245.9 L1236 245.9 L1238 245.9 L1240 245.9 L1242 245.9 L1297.9 245.9"/>
</g>
<g>
<path d="M410.9 304.9 L452 304.9 L454 304.9 L456 304.9 L458 304.9 L460 304.9 L462 304.9 L464 304.9 L466 304.8 L468 304.8 L470 304.8 L472 304.8 L474 304.8 L476 304.8 L478 304.8 L480 304.8 L482 304.8 L484 304.8 L486 304.8 L488 304.8 L490 304.8 L492 304.8 L494 304.8 L496 304.8 L498 304.8 L500 304.8 L502 304.8 L504 304.7 L506 304.7 L508 304.7 L510 304.7 L512 304.7 L514 304.7 L516 304.7 L518 304.7 L520 304.7 L522 304.7 L524 304.7 L526 304.7 L528 304.7 L530 304.6 L532 304.6 L534 304.6 L536 304.6 L538 304.6 L540 304.6 L542 304.6 L544 304.6 L546 304.6 L548 304.6 L550 304.5 L552 304.5 L554 304.5 L556 304.5 L558 304.5 L560 304.4 L562 304.4 L564 304.4 L566 304.3 L568 304.3 L570 304.3 L572 304.2 L574 304.2 L576 304.1 L578 304.1 L580 304 L582 304 L584 303.9 L586 303.9 L588 303.8 L590 303.8 L592 303.7 L594 303.7 L596 303.6 L598 303.6 L600 303.5 L602 303.5 L604 303.4 L606 303.4 L608 303.3 L610 303.3 L612 303.2 L614 303.2 L616 303.1 L618 303.1 L620 303 L622 303 L624 302.9 L626 302.8 L628 302.8 L630 302.7 L632 302.7 L634 302.6 L636 302.5 L638 302.5 L640 302.4 L642 302.3 L644 302.3 L646 302.2 L648 302.1 L650 302 L652 301.9 L654 301.8 L656 301.7 L658 301.5 L660 301.4 L662 301.3 L664 301.1 L666 300.9 L668 300.8 L670 300.6 L672 300.4 L674 300.2 L676 300 L678 299.7 L680 299.5 L682 299.2 L684 298.9 L686 298.6 L688 298.3 L690 297.9 L692 297.6 L694 297.2 L696 296.8 L698 296.4 L700 296 L702 295.5 L704 295.1 L706 294.6 L708 294 L710 293.4 L712 292.8 L714 292.2 L716 291.5 L718 290.8 L720 290 L722 289.2 L724 288.3 L726 287.4 L728 286.5 L730 285.5 L732 284.4 L734 283.4 L736 282.3 L738 281.2 L740 280.2 L742 279.1 L744 278 L746 277 L748 275.8 L750 274.7 L752 273.4 L754 272.2 L756 271 L758 269.8 L760 268.8 L762 267.8 L764 267 L766 266.2 L768 265.4 L770 264.7 L772 264.1 L774 263.4 L776 262.8 L778 262.2 L780 261.7 L782 261.2 L784 260.7 L786 260.3 L788 259.9 L790 259.5 L792 259.1 L794 258.8 L796 258.4 L798 258.1 L800 257.8 L802 257.5 L804 257.2 L806 257 L808 256.8 L810 256.6 L812 256.5 L814 256.4 L816 256.3 L818 256.2 L820 256.1 L822 256 L824 256 L826 255.9 L828 255.9 L830 255.8 L832 255.7 L834 255.6 L836 255.5 L838 255.4 L840 255.3 L842 255.2 L844 255.1 L846 255 L848 254.9 L850 254.8 L852 254.8 L854 254.7 L856 254.7 L858 254.7 L860 254.6 L862 254.6 L864 254.6 L866 254.6 L868 254.6 L870 254.6 L872 254.6 L874 254.6 L876 254.7 L878 254.8 L880 255 L882 255.2 L884 255.4 L886 255.7 L888 256.1 L890 256.4 L892 256.8 L894 257.2 L896 257.7 L898 258.3 L900 258.9 L902 259.5 L904 260.2 L906 261 L908 261.7 L910 262.4 L912 263.2 L914 264 L916 264.8 L918 265.7 L920 266.6 L922 267.6 L924 268.5 L926 269.5 L928 270.4 L930 271.4 L932 272.3 L934 273.2 L936 274 L938 274.9 L940 275.7 L942 276.5 L944 277.2 L946 278 L948 278.8 L950 279.5 L952 280.2 L954 281 L956 281.7 L958 282.4 L960 283.1 L962 283.8 L964 284.5 L966 285.1 L968 285.7 L970 286.2 L972 286.5 L974 286.9 L976 287.2 L978 287.4 L980 287.7 L982 288 L984 288.3 L986 288.6 L988 288.9 L990 289.2 L992 289.6 L994 289.9 L996 290.3 L998 290.7 L1000 291.1 L1002 291.5 L1004 291.9 L1006 292.3 L1008 292.8 L1010 293.2 L1012 293.6 L1014 294.1 L1016 294.5 L1018 295 L1020 295.4 L1022 295.8 L1024 296.2 L1026 296.6 L1028 297 L1030 297.3 L1032 297.7 L1034 298 L1036 298.4 L1038 298.7 L1040 299 L1042 299.3 L1044 299.6 L1046 299.8 L1048 300.1 L1050 300.4 L1052 300.6 L1054 300.9 L1056 301.1 L1058 301.3 L1060 301.5 L1062 301.7 L1064 301.9 L1066 302.1 L1068 302.3 L1070 302.4 L1072 302.5 L1074 302.6 L1076 302.7 L1078 302.7 L1080 302.7 L1082 302.8 L1084 302.8 L1086 302.8 L1088 302.7 L1090 302.7 L1092 302.6 L1094 302.5 L1096 302.5 L1098 302.4 L1100 302.3 L1102 302.3 L1104 302.3 L1106 302.2 L1108 302.2 L1110 302.2 L1112 302.3 L1114 302.4 L1116 302.5 L1118 302.7 L1120 302.8 L1122 303 L1124 303.2 L1126 303.4 L1128 303.6 L1130 303.8 L1132 304 L1134 304.1 L1136 304.2 L1138 304.3 L1140 304.4 L1142 304.4 L1144 304.5 L1146 304.6 L1148 304.6 L1150 304.7 L1152 304.7 L1154 304.8 L1156 304.8 L1158 304.8 L1160 304.8 L1162 304.8 L1164 304.8 L1166 304.8 L1168 304.8 L1170 304.8 L1172 304.8 L1174 304.8 L1176 304.8 L1178 304.8 L1180 304.8 L1182 304.8 L1184 304.8 L1186 304.8 L1188 304.8 L1190 304.8 L1192 304.8 L1194 304.9 L1196 304.9 L1198 304.9 L1200 304.9 L1202 304.9 L1204 304.9 L1206 304.9 L1208 304.9 L1210 304.9 L1212 304.9 L1214 304.9 L1297.9 304.9 L1297.9 304.9 L410.9 304.9 Z" fill="#37A4FF" fill-opacity="0.7"/>
<path class="k" d="M749 304.9 V275.2"/>
<path class="k" d="M850.2 304.9 V254.8"/>
<path class="k" d="M968.5 304.9 V285.8"/>
<path class="k kr" d="M410.9 304.9 L452 304.9 L454 304.9 L456 304.9 L458 304.9 L460 304.9 L462 304.9 L464 304.9 L466 304.8 L468 304.8 L470 304.8 L472 304.8 L474 304.8 L476 304.8 L478 304.8 L480 304.8 L482 304.8 L484 304.8 L486 304.8 L488 304.8 L490 304.8 L492 304.8 L494 304.8 L496 304.8 L498 304.8 L500 304.8 L502 304.8 L504 304.7 L506 304.7 L508 304.7 L510 304.7 L512 304.7 L514 304.7 L516 304.7 L518 304.7 L520 304.7 L522 304.7 L524 304.7 L526 304.7 L528 304.7 L530 304.6 L532 304.6 L534 304.6 L536 304.6 L538 304.6 L540 304.6 L542 304.6 L544 304.6 L546 304.6 L548 304.6 L550 304.5 L552 304.5 L554 304.5 L556 304.5 L558 304.5 L560 304.4 L562 304.4 L564 304.4 L566 304.3 L568 304.3 L570 304.3 L572 304.2 L574 304.2 L576 304.1 L578 304.1 L580 304 L582 304 L584 303.9 L586 303.9 L588 303.8 L590 303.8 L592 303.7 L594 303.7 L596 303.6 L598 303.6 L600 303.5 L602 303.5 L604 303.4 L606 303.4 L608 303.3 L610 303.3 L612 303.2 L614 303.2 L616 303.1 L618 303.1 L620 303 L622 303 L624 302.9 L626 302.8 L628 302.8 L630 302.7 L632 302.7 L634 302.6 L636 302.5 L638 302.5 L640 302.4 L642 302.3 L644 302.3 L646 302.2 L648 302.1 L650 302 L652 301.9 L654 301.8 L656 301.7 L658 301.5 L660 301.4 L662 301.3 L664 301.1 L666 300.9 L668 300.8 L670 300.6 L672 300.4 L674 300.2 L676 300 L678 299.7 L680 299.5 L682 299.2 L684 298.9 L686 298.6 L688 298.3 L690 297.9 L692 297.6 L694 297.2 L696 296.8 L698 296.4 L700 296 L702 295.5 L704 295.1 L706 294.6 L708 294 L710 293.4 L712 292.8 L714 292.2 L716 291.5 L718 290.8 L720 290 L722 289.2 L724 288.3 L726 287.4 L728 286.5 L730 285.5 L732 284.4 L734 283.4 L736 282.3 L738 281.2 L740 280.2 L742 279.1 L744 278 L746 277 L748 275.8 L750 274.7 L752 273.4 L754 272.2 L756 271 L758 269.8 L760 268.8 L762 267.8 L764 267 L766 266.2 L768 265.4 L770 264.7 L772 264.1 L774 263.4 L776 262.8 L778 262.2 L780 261.7 L782 261.2 L784 260.7 L786 260.3 L788 259.9 L790 259.5 L792 259.1 L794 258.8 L796 258.4 L798 258.1 L800 257.8 L802 257.5 L804 257.2 L806 257 L808 256.8 L810 256.6 L812 256.5 L814 256.4 L816 256.3 L818 256.2 L820 256.1 L822 256 L824 256 L826 255.9 L828 255.9 L830 255.8 L832 255.7 L834 255.6 L836 255.5 L838 255.4 L840 255.3 L842 255.2 L844 255.1 L846 255 L848 254.9 L850 254.8 L852 254.8 L854 254.7 L856 254.7 L858 254.7 L860 254.6 L862 254.6 L864 254.6 L866 254.6 L868 254.6 L870 254.6 L872 254.6 L874 254.6 L876 254.7 L878 254.8 L880 255 L882 255.2 L884 255.4 L886 255.7 L888 256.1 L890 256.4 L892 256.8 L894 257.2 L896 257.7 L898 258.3 L900 258.9 L902 259.5 L904 260.2 L906 261 L908 261.7 L910 262.4 L912 263.2 L914 264 L916 264.8 L918 265.7 L920 266.6 L922 267.6 L924 268.5 L926 269.5 L928 270.4 L930 271.4 L932 272.3 L934 273.2 L936 274 L938 274.9 L940 275.7 L942 276.5 L944 277.2 L946 278 L948 278.8 L950 279.5 L952 280.2 L954 281 L956 281.7 L958 282.4 L960 283.1 L962 283.8 L964 284.5 L966 285.1 L968 285.7 L970 286.2 L972 286.5 L974 286.9 L976 287.2 L978 287.4 L980 287.7 L982 288 L984 288.3 L986 288.6 L988 288.9 L990 289.2 L992 289.6 L994 289.9 L996 290.3 L998 290.7 L1000 291.1 L1002 291.5 L1004 291.9 L1006 292.3 L1008 292.8 L1010 293.2 L1012 293.6 L1014 294.1 L1016 294.5 L1018 295 L1020 295.4 L1022 295.8 L1024 296.2 L1026 296.6 L1028 297 L1030 297.3 L1032 297.7 L1034 298 L1036 298.4 L1038 298.7 L1040 299 L1042 299.3 L1044 299.6 L1046 299.8 L1048 300.1 L1050 300.4 L1052 300.6 L1054 300.9 L1056 301.1 L1058 301.3 L1060 301.5 L1062 301.7 L1064 301.9 L1066 302.1 L1068 302.3 L1070 302.4 L1072 302.5 L1074 302.6 L1076 302.7 L1078 302.7 L1080 302.7 L1082 302.8 L1084 302.8 L1086 302.8 L1088 302.7 L1090 302.7 L1092 302.6 L1094 302.5 L1096 302.5 L1098 302.4 L1100 302.3 L1102 302.3 L1104 302.3 L1106 302.2 L1108 302.2 L1110 302.2 L1112 302.3 L1114 302.4 L1116 302.5 L1118 302.7 L1120 302.8 L1122 303 L1124 303.2 L1126 303.4 L1128 303.6 L1130 303.8 L1132 304 L1134 304.1 L1136 304.2 L1138 304.3 L1140 304.4 L1142 304.4 L1144 304.5 L1146 304.6 L1148 304.6 L1150 304.7 L1152 304.7 L1154 304.8 L1156 304.8 L1158 304.8 L1160 304.8 L1162 304.8 L1164 304.8 L1166 304.8 L1168 304.8 L1170 304.8 L1172 304.8 L1174 304.8 L1176 304.8 L1178 304.8 L1180 304.8 L1182 304.8 L1184 304.8 L1186 304.8 L1188 304.8 L1190 304.8 L1192 304.8 L1194 304.9 L1196 304.9 L1198 304.9 L1200 304.9 L1202 304.9 L1204 304.9 L1206 304.9 L1208 304.9 L1210 304.9 L1212 304.9 L1214 304.9 L1297.9 304.9"/>
</g>
<g>
<path d="M410.9 363.9 L556 363.9 L558 363.9 L560 363.8 L562 363.8 L564 363.8 L566 363.7 L568 363.7 L570 363.6 L572 363.6 L574 363.6 L576 363.5 L578 363.4 L580 363.4 L582 363.3 L584 363.3 L586 363.2 L588 363.1 L590 363.1 L592 363 L594 362.9 L596 362.9 L598 362.8 L600 362.7 L602 362.7 L604 362.6 L606 362.5 L608 362.5 L610 362.4 L612 362.3 L614 362.2 L616 362.1 L618 362 L620 361.9 L622 361.7 L624 361.6 L626 361.5 L628 361.3 L630 361.1 L632 360.9 L634 360.6 L636 360.4 L638 360.1 L640 359.8 L642 359.5 L644 359.2 L646 358.8 L648 358.5 L650 358.1 L652 357.8 L654 357.3 L656 356.9 L658 356.4 L660 355.9 L662 355.4 L664 354.9 L666 354.3 L668 353.8 L670 353.2 L672 352.7 L674 352.1 L676 351.6 L678 351 L680 350.5 L682 349.9 L684 349.3 L686 348.8 L688 348.2 L690 347.6 L692 347 L694 346.4 L696 345.7 L698 345.1 L700 344.4 L702 343.8 L704 343 L706 342.3 L708 341.6 L710 340.8 L712 340.1 L714 339.3 L716 338.6 L718 337.9 L720 337.2 L722 336.5 L724 335.9 L726 335.2 L728 334.6 L730 334 L732 333.3 L734 332.6 L736 331.8 L738 331 L740 330.1 L742 329.2 L744 328.2 L746 327.2 L748 326.3 L750 325.3 L752 324.5 L754 323.7 L756 322.9 L758 322.2 L760 321.4 L762 320.7 L764 320 L766 319.4 L768 318.8 L770 318.3 L772 317.9 L774 317.6 L776 317.3 L778 317.1 L780 316.9 L782 316.6 L784 316.4 L786 316.3 L788 316.1 L790 316 L792 315.8 L794 315.8 L796 315.7 L798 315.7 L800 315.7 L802 315.7 L804 315.8 L806 315.8 L808 315.9 L810 316 L812 316.2 L814 316.3 L816 316.4 L818 316.6 L820 316.7 L822 316.9 L824 317 L826 317.1 L828 317.2 L830 317.3 L832 317.4 L834 317.5 L836 317.6 L838 317.8 L840 317.9 L842 318 L844 318.1 L846 318.2 L848 318.4 L850 318.5 L852 318.7 L854 318.8 L856 319 L858 319.2 L860 319.4 L862 319.6 L864 319.8 L866 320 L868 320.2 L870 320.5 L872 320.7 L874 321 L876 321.3 L878 321.5 L880 321.9 L882 322.2 L884 322.5 L886 322.9 L888 323.3 L890 323.7 L892 324.1 L894 324.6 L896 325 L898 325.6 L900 326.1 L902 326.7 L904 327.4 L906 328.1 L908 328.9 L910 329.7 L912 330.6 L914 331.4 L916 332.3 L918 333.1 L920 333.9 L922 334.6 L924 335.3 L926 335.9 L928 336.6 L930 337.2 L932 337.8 L934 338.3 L936 338.9 L938 339.5 L940 340 L942 340.6 L944 341.2 L946 341.8 L948 342.4 L950 343 L952 343.7 L954 344.3 L956 344.9 L958 345.5 L960 346.2 L962 346.8 L964 347.4 L966 348 L968 348.6 L970 349.2 L972 349.7 L974 350.3 L976 350.7 L978 351.2 L980 351.6 L982 352.1 L984 352.4 L986 352.8 L988 353.2 L990 353.5 L992 353.8 L994 354.1 L996 354.4 L998 354.7 L1000 355 L1002 355.2 L1004 355.5 L1006 355.7 L1008 355.9 L1010 356.1 L1012 356.4 L1014 356.6 L1016 356.8 L1018 357 L1020 357.2 L1022 357.3 L1024 357.5 L1026 357.7 L1028 357.9 L1030 358 L1032 358.2 L1034 358.3 L1036 358.5 L1038 358.6 L1040 358.8 L1042 358.9 L1044 359.1 L1046 359.2 L1048 359.3 L1050 359.4 L1052 359.5 L1054 359.6 L1056 359.7 L1058 359.8 L1060 359.9 L1062 360 L1064 360.2 L1066 360.3 L1068 360.5 L1070 360.7 L1072 360.9 L1074 361 L1076 361.2 L1078 361.4 L1080 361.6 L1082 361.7 L1084 361.9 L1086 362.1 L1088 362.3 L1090 362.4 L1092 362.6 L1094 362.7 L1096 362.9 L1098 363 L1100 363.2 L1102 363.3 L1104 363.4 L1106 363.5 L1108 363.6 L1110 363.6 L1112 363.7 L1114 363.7 L1116 363.8 L1118 363.8 L1120 363.8 L1122 363.9 L1124 363.9 L1297.9 363.9 L1297.9 363.9 L410.9 363.9 Z" fill="#34B6EB" fill-opacity="0.7"/>
<path class="k" d="M718 363.9 V337.9"/>
<path class="k" d="M826.8 363.9 V317.1"/>
<path class="k" d="M945.5 363.9 V341.7"/>
<path class="k kr" d="M410.9 363.9 L556 363.9 L558 363.9 L560 363.8 L562 363.8 L564 363.8 L566 363.7 L568 363.7 L570 363.6 L572 363.6 L574 363.6 L576 363.5 L578 363.4 L580 363.4 L582 363.3 L584 363.3 L586 363.2 L588 363.1 L590 363.1 L592 363 L594 362.9 L596 362.9 L598 362.8 L600 362.7 L602 362.7 L604 362.6 L606 362.5 L608 362.5 L610 362.4 L612 362.3 L614 362.2 L616 362.1 L618 362 L620 361.9 L622 361.7 L624 361.6 L626 361.5 L628 361.3 L630 361.1 L632 360.9 L634 360.6 L636 360.4 L638 360.1 L640 359.8 L642 359.5 L644 359.2 L646 358.8 L648 358.5 L650 358.1 L652 357.8 L654 357.3 L656 356.9 L658 356.4 L660 355.9 L662 355.4 L664 354.9 L666 354.3 L668 353.8 L670 353.2 L672 352.7 L674 352.1 L676 351.6 L678 351 L680 350.5 L682 349.9 L684 349.3 L686 348.8 L688 348.2 L690 347.6 L692 347 L694 346.4 L696 345.7 L698 345.1 L700 344.4 L702 343.8 L704 343 L706 342.3 L708 341.6 L710 340.8 L712 340.1 L714 339.3 L716 338.6 L718 337.9 L720 337.2 L722 336.5 L724 335.9 L726 335.2 L728 334.6 L730 334 L732 333.3 L734 332.6 L736 331.8 L738 331 L740 330.1 L742 329.2 L744 328.2 L746 327.2 L748 326.3 L750 325.3 L752 324.5 L754 323.7 L756 322.9 L758 322.2 L760 321.4 L762 320.7 L764 320 L766 319.4 L768 318.8 L770 318.3 L772 317.9 L774 317.6 L776 317.3 L778 317.1 L780 316.9 L782 316.6 L784 316.4 L786 316.3 L788 316.1 L790 316 L792 315.8 L794 315.8 L796 315.7 L798 315.7 L800 315.7 L802 315.7 L804 315.8 L806 315.8 L808 315.9 L810 316 L812 316.2 L814 316.3 L816 316.4 L818 316.6 L820 316.7 L822 316.9 L824 317 L826 317.1 L828 317.2 L830 317.3 L832 317.4 L834 317.5 L836 317.6 L838 317.8 L840 317.9 L842 318 L844 318.1 L846 318.2 L848 318.4 L850 318.5 L852 318.7 L854 318.8 L856 319 L858 319.2 L860 319.4 L862 319.6 L864 319.8 L866 320 L868 320.2 L870 320.5 L872 320.7 L874 321 L876 321.3 L878 321.5 L880 321.9 L882 322.2 L884 322.5 L886 322.9 L888 323.3 L890 323.7 L892 324.1 L894 324.6 L896 325 L898 325.6 L900 326.1 L902 326.7 L904 327.4 L906 328.1 L908 328.9 L910 329.7 L912 330.6 L914 331.4 L916 332.3 L918 333.1 L920 333.9 L922 334.6 L924 335.3 L926 335.9 L928 336.6 L930 337.2 L932 337.8 L934 338.3 L936 338.9 L938 339.5 L940 340 L942 340.6 L944 341.2 L946 341.8 L948 342.4 L950 343 L952 343.7 L954 344.3 L956 344.9 L958 345.5 L960 346.2 L962 346.8 L964 347.4 L966 348 L968 348.6 L970 349.2 L972 349.7 L974 350.3 L976 350.7 L978 351.2 L980 351.6 L982 352.1 L984 352.4 L986 352.8 L988 353.2 L990 353.5 L992 353.8 L994 354.1 L996 354.4 L998 354.7 L1000 355 L1002 355.2 L1004 355.5 L1006 355.7 L1008 355.9 L1010 356.1 L1012 356.4 L1014 356.6 L1016 356.8 L1018 357 L1020 357.2 L1022 357.3 L1024 357.5 L1026 357.7 L1028 357.9 L1030 358 L1032 358.2 L1034 358.3 L1036 358.5 L1038 358.6 L1040 358.8 L1042 358.9 L1044 359.1 L1046 359.2 L1048 359.3 L1050 359.4 L1052 359.5 L1054 359.6 L1056 359.7 L1058 359.8 L1060 359.9 L1062 360 L1064 360.2 L1066 360.3 L1068 360.5 L1070 360.7 L1072 360.9 L1074 361 L1076 361.2 L1078 361.4 L1080 361.6 L1082 361.7 L1084 361.9 L1086 362.1 L1088 362.3 L1090 362.4 L1092 362.6 L1094 362.7 L1096 362.9 L1098 363 L1100 363.2 L1102 363.3 L1104 363.4 L1106 363.5 L1108 363.6 L1110 363.6 L1112 363.7 L1114 363.7 L1116 363.8 L1118 363.8 L1120 363.8 L1122 363.9 L1124 363.9 L1297.9 363.9"/>
</g>
<g>
<path d="M410.9 422.9 L554 422.9 L556 422.9 L558 422.8 L560 422.8 L562 422.8 L564 422.7 L566 422.7 L568 422.6 L570 422.5 L572 422.5 L574 422.4 L576 422.4 L578 422.3 L580 422.2 L582 422.1 L584 422 L586 421.9 L588 421.8 L590 421.6 L592 421.5 L594 421.4 L596 421.2 L598 421.1 L600 420.9 L602 420.7 L604 420.5 L606 420.4 L608 420.2 L610 419.9 L612 419.7 L614 419.5 L616 419.2 L618 419 L620 418.7 L622 418.5 L624 418.2 L626 418 L628 417.7 L630 417.4 L632 417 L634 416.7 L636 416.4 L638 416 L640 415.7 L642 415.4 L644 415 L646 414.7 L648 414.4 L650 414.1 L652 413.8 L654 413.6 L656 413.3 L658 413.1 L660 412.9 L662 412.6 L664 412.4 L666 412.2 L668 411.9 L670 411.7 L672 411.4 L674 411 L676 410.7 L678 410.3 L680 409.9 L682 409.4 L684 408.9 L686 408.3 L688 407.7 L690 407.1 L692 406.4 L694 405.7 L696 405 L698 404.2 L700 403.4 L702 402.5 L704 401.5 L706 400.6 L708 399.5 L710 398.5 L712 397.5 L714 396.5 L716 395.5 L718 394.5 L720 393.5 L722 392.5 L724 391.6 L726 390.7 L728 389.9 L730 389.2 L732 388.4 L734 387.7 L736 386.9 L738 386.1 L740 385.2 L742 384.3 L744 383.4 L746 382.6 L748 381.7 L750 380.8 L752 380 L754 379.2 L756 378.4 L758 377.7 L760 376.9 L762 376.2 L764 375.5 L766 374.8 L768 374.1 L770 373.5 L772 372.9 L774 372.3 L776 371.7 L778 371.1 L780 370.5 L782 370 L784 369.4 L786 368.9 L788 368.4 L790 367.9 L792 367.4 L794 367 L796 366.6 L798 366.2 L800 365.9 L802 365.6 L804 365.2 L806 364.9 L808 364.6 L810 364.4 L812 364.3 L814 364.2 L816 364.2 L818 364.2 L820 364.2 L822 364.2 L824 364.2 L826 364.3 L828 364.6 L830 364.9 L832 365.3 L834 365.7 L836 366.1 L838 366.6 L840 367.2 L842 367.8 L844 368.5 L846 369.3 L848 370 L850 370.8 L852 371.7 L854 372.6 L856 373.6 L858 374.5 L860 375.4 L862 376.3 L864 377.2 L866 378.1 L868 378.9 L870 379.8 L872 380.7 L874 381.5 L876 382.3 L878 383.1 L880 383.9 L882 384.7 L884 385.4 L886 386.1 L888 386.8 L890 387.4 L892 388 L894 388.6 L896 389.2 L898 389.8 L900 390.3 L902 390.9 L904 391.5 L906 392 L908 392.7 L910 393.3 L912 394.1 L914 394.8 L916 395.6 L918 396.4 L920 397.2 L922 398 L924 398.8 L926 399.6 L928 400.4 L930 401.2 L932 401.9 L934 402.7 L936 403.4 L938 404.1 L940 404.8 L942 405.4 L944 406.1 L946 406.7 L948 407.3 L950 408 L952 408.6 L954 409.2 L956 409.7 L958 410.3 L960 410.9 L962 411.4 L964 412 L966 412.5 L968 413.1 L970 413.6 L972 414.1 L974 414.7 L976 415.1 L978 415.6 L980 416.1 L982 416.5 L984 416.9 L986 417.3 L988 417.6 L990 418 L992 418.3 L994 418.6 L996 418.9 L998 419.2 L1000 419.5 L1002 419.8 L1004 420 L1006 420.2 L1008 420.4 L1010 420.6 L1012 420.8 L1014 420.9 L1016 421 L1018 421.1 L1020 421.2 L1022 421.4 L1024 421.4 L1026 421.5 L1028 421.6 L1030 421.7 L1032 421.8 L1034 421.8 L1036 421.9 L1038 422 L1040 422 L1042 422.1 L1044 422.1 L1046 422.2 L1048 422.2 L1050 422.3 L1052 422.3 L1054 422.4 L1056 422.4 L1058 422.5 L1060 422.5 L1062 422.6 L1064 422.6 L1066 422.6 L1068 422.6 L1070 422.6 L1072 422.6 L1074 422.7 L1076 422.7 L1078 422.7 L1080 422.7 L1082 422.7 L1084 422.7 L1086 422.7 L1088 422.7 L1090 422.7 L1092 422.7 L1094 422.7 L1096 422.7 L1098 422.7 L1100 422.7 L1102 422.7 L1104 422.7 L1106 422.7 L1108 422.7 L1110 422.7 L1112 422.7 L1114 422.7 L1116 422.8 L1118 422.8 L1120 422.8 L1122 422.8 L1124 422.8 L1126 422.8 L1128 422.8 L1130 422.8 L1132 422.8 L1134 422.8 L1136 422.8 L1138 422.8 L1140 422.8 L1142 422.8 L1144 422.8 L1146 422.8 L1148 422.8 L1150 422.8 L1152 422.8 L1154 422.8 L1156 422.8 L1158 422.8 L1160 422.8 L1162 422.8 L1164 422.8 L1166 422.8 L1168 422.8 L1170 422.8 L1172 422.8 L1174 422.8 L1176 422.8 L1178 422.8 L1180 422.8 L1182 422.8 L1184 422.8 L1186 422.9 L1188 422.9 L1190 422.9 L1192 422.9 L1194 422.9 L1196 422.9 L1198 422.9 L1200 422.9 L1202 422.9 L1204 422.9 L1206 422.9 L1208 422.9 L1297.9 422.9 L1297.9 422.9 L410.9 422.9 Z" fill="#38BFC4" fill-opacity="0.7"/>
<path class="k" d="M714.5 422.9 V396.2"/>
<path class="k" d="M814 422.9 V364.2"/>
<path class="k" d="M915.4 422.9 V395.4"/>
<path class="k kr" d="M410.9 422.9 L554 422.9 L556 422.9 L558 422.8 L560 422.8 L562 422.8 L564 422.7 L566 422.7 L568 422.6 L570 422.5 L572 422.5 L574 422.4 L576 422.4 L578 422.3 L580 422.2 L582 422.1 L584 422 L586 421.9 L588 421.8 L590 421.6 L592 421.5 L594 421.4 L596 421.2 L598 421.1 L600 420.9 L602 420.7 L604 420.5 L606 420.4 L608 420.2 L610 419.9 L612 419.7 L614 419.5 L616 419.2 L618 419 L620 418.7 L622 418.5 L624 418.2 L626 418 L628 417.7 L630 417.4 L632 417 L634 416.7 L636 416.4 L638 416 L640 415.7 L642 415.4 L644 415 L646 414.7 L648 414.4 L650 414.1 L652 413.8 L654 413.6 L656 413.3 L658 413.1 L660 412.9 L662 412.6 L664 412.4 L666 412.2 L668 411.9 L670 411.7 L672 411.4 L674 411 L676 410.7 L678 410.3 L680 409.9 L682 409.4 L684 408.9 L686 408.3 L688 407.7 L690 407.1 L692 406.4 L694 405.7 L696 405 L698 404.2 L700 403.4 L702 402.5 L704 401.5 L706 400.6 L708 399.5 L710 398.5 L712 397.5 L714 396.5 L716 395.5 L718 394.5 L720 393.5 L722 392.5 L724 391.6 L726 390.7 L728 389.9 L730 389.2 L732 388.4 L734 387.7 L736 386.9 L738 386.1 L740 385.2 L742 384.3 L744 383.4 L746 382.6 L748 381.7 L750 380.8 L752 380 L754 379.2 L756 378.4 L758 377.7 L760 376.9 L762 376.2 L764 375.5 L766 374.8 L768 374.1 L770 373.5 L772 372.9 L774 372.3 L776 371.7 L778 371.1 L780 370.5 L782 370 L784 369.4 L786 368.9 L788 368.4 L790 367.9 L792 367.4 L794 367 L796 366.6 L798 366.2 L800 365.9 L802 365.6 L804 365.2 L806 364.9 L808 364.6 L810 364.4 L812 364.3 L814 364.2 L816 364.2 L818 364.2 L820 364.2 L822 364.2 L824 364.2 L826 364.3 L828 364.6 L830 364.9 L832 365.3 L834 365.7 L836 366.1 L838 366.6 L840 367.2 L842 367.8 L844 368.5 L846 369.3 L848 370 L850 370.8 L852 371.7 L854 372.6 L856 373.6 L858 374.5 L860 375.4 L862 376.3 L864 377.2 L866 378.1 L868 378.9 L870 379.8 L872 380.7 L874 381.5 L876 382.3 L878 383.1 L880 383.9 L882 384.7 L884 385.4 L886 386.1 L888 386.8 L890 387.4 L892 388 L894 388.6 L896 389.2 L898 389.8 L900 390.3 L902 390.9 L904 391.5 L906 392 L908 392.7 L910 393.3 L912 394.1 L914 394.8 L916 395.6 L918 396.4 L920 397.2 L922 398 L924 398.8 L926 399.6 L928 400.4 L930 401.2 L932 401.9 L934 402.7 L936 403.4 L938 404.1 L940 404.8 L942 405.4 L944 406.1 L946 406.7 L948 407.3 L950 408 L952 408.6 L954 409.2 L956 409.7 L958 410.3 L960 410.9 L962 411.4 L964 412 L966 412.5 L968 413.1 L970 413.6 L972 414.1 L974 414.7 L976 415.1 L978 415.6 L980 416.1 L982 416.5 L984 416.9 L986 417.3 L988 417.6 L990 418 L992 418.3 L994 418.6 L996 418.9 L998 419.2 L1000 419.5 L1002 419.8 L1004 420 L1006 420.2 L1008 420.4 L1010 420.6 L1012 420.8 L1014 420.9 L1016 421 L1018 421.1 L1020 421.2 L1022 421.4 L1024 421.4 L1026 421.5 L1028 421.6 L1030 421.7 L1032 421.8 L1034 421.8 L1036 421.9 L1038 422 L1040 422 L1042 422.1 L1044 422.1 L1046 422.2 L1048 422.2 L1050 422.3 L1052 422.3 L1054 422.4 L1056 422.4 L1058 422.5 L1060 422.5 L1062 422.6 L1064 422.6 L1066 422.6 L1068 422.6 L1070 422.6 L1072 422.6 L1074 422.7 L1076 422.7 L1078 422.7 L1080 422.7 L1082 422.7 L1084 422.7 L1086 422.7 L1088 422.7 L1090 422.7 L1092 422.7 L1094 422.7 L1096 422.7 L1098 422.7 L1100 422.7 L1102 422.7 L1104 422.7 L1106 422.7 L1108 422.7 L1110 422.7 L1112 422.7 L1114 422.7 L1116 422.8 L1118 422.8 L1120 422.8 L1122 422.8 L1124 422.8 L1126 422.8 L1128 422.8 L1130 422.8 L1132 422.8 L1134 422.8 L1136 422.8 L1138 422.8 L1140 422.8 L1142 422.8 L1144 422.8 L1146 422.8 L1148 422.8 L1150 422.8 L1152 422.8 L1154 422.8 L1156 422.8 L1158 422.8 L1160 422.8 L1162 422.8 L1164 422.8 L1166 422.8 L1168 422.8 L1170 422.8 L1172 422.8 L1174 422.8 L1176 422.8 L1178 422.8 L1180 422.8 L1182 422.8 L1184 422.8 L1186 422.9 L1188 422.9 L1190 422.9 L1192 422.9 L1194 422.9 L1196 422.9 L1198 422.9 L1200 422.9 L1202 422.9 L1204 422.9 L1206 422.9 L1208 422.9 L1297.9 422.9"/>
</g>
<g>
<path d="M410.9 481.9 L468 481.9 L470 481.9 L472 481.9 L474 481.9 L476 481.9 L478 481.9 L480 481.9 L482 481.9 L484 481.9 L486 481.8 L488 481.8 L490 481.8 L492 481.8 L494 481.8 L496 481.8 L498 481.8 L500 481.8 L502 481.8 L504 481.8 L506 481.8 L508 481.8 L510 481.8 L512 481.8 L514 481.8 L516 481.8 L518 481.8 L520 481.8 L522 481.8 L524 481.8 L526 481.8 L528 481.8 L530 481.8 L532 481.8 L534 481.8 L536 481.8 L538 481.8 L540 481.7 L542 481.7 L544 481.7 L546 481.7 L548 481.7 L550 481.7 L552 481.7 L554 481.7 L556 481.7 L558 481.7 L560 481.7 L562 481.7 L564 481.7 L566 481.7 L568 481.7 L570 481.7 L572 481.7 L574 481.7 L576 481.6 L578 481.6 L580 481.6 L582 481.6 L584 481.6 L586 481.6 L588 481.6 L590 481.6 L592 481.5 L594 481.5 L596 481.5 L598 481.5 L600 481.5 L602 481.4 L604 481.4 L606 481.4 L608 481.4 L610 481.3 L612 481.3 L614 481.3 L616 481.2 L618 481.2 L620 481.2 L622 481.1 L624 481.1 L626 481 L628 480.9 L630 480.9 L632 480.8 L634 480.7 L636 480.5 L638 480.4 L640 480.3 L642 480.1 L644 479.9 L646 479.8 L648 479.6 L650 479.4 L652 479.3 L654 479.1 L656 478.9 L658 478.7 L660 478.4 L662 478.2 L664 478 L666 477.7 L668 477.5 L670 477.2 L672 476.9 L674 476.7 L676 476.4 L678 476.2 L680 475.9 L682 475.6 L684 475.3 L686 475.1 L688 474.8 L690 474.5 L692 474.2 L694 473.8 L696 473.5 L698 473.1 L700 472.7 L702 472.3 L704 471.8 L706 471.3 L708 470.8 L710 470.3 L712 469.7 L714 469.1 L716 468.4 L718 467.7 L720 467 L722 466.2 L724 465.5 L726 464.8 L728 464 L730 463.3 L732 462.6 L734 461.9 L736 461.2 L738 460.6 L740 460 L742 459.5 L744 458.9 L746 458.4 L748 457.8 L750 457.1 L752 456.4 L754 455.7 L756 455 L758 454.2 L760 453.5 L762 452.8 L764 452.2 L766 451.5 L768 450.8 L770 450.2 L772 449.6 L774 449 L776 448.3 L778 447.8 L780 447.2 L782 446.7 L784 446.2 L786 445.7 L788 445.2 L790 444.8 L792 444.4 L794 444 L796 443.7 L798 443.3 L800 443 L802 442.6 L804 442.3 L806 441.9 L808 441.5 L810 441.1 L812 440.7 L814 440.2 L816 439.7 L818 439.2 L820 438.7 L822 438.2 L824 437.7 L826 437.1 L828 436.6 L830 436.1 L832 435.6 L834 435.1 L836 434.7 L838 434.2 L840 433.7 L842 433.3 L844 432.9 L846 432.5 L848 432.2 L850 432 L852 431.8 L854 431.6 L856 431.5 L858 431.5 L860 431.6 L862 431.8 L864 432.2 L866 432.7 L868 433.3 L870 434 L872 434.7 L874 435.3 L876 435.8 L878 436.3 L880 436.9 L882 437.4 L884 437.8 L886 438.2 L888 438.5 L890 438.8 L892 438.9 L894 439 L896 439.1 L898 439.2 L900 439.2 L902 439.3 L904 439.3 L906 439.4 L908 439.5 L910 439.6 L912 439.8 L914 440.2 L916 440.6 L918 441.2 L920 441.8 L922 442.5 L924 443.2 L926 443.9 L928 444.6 L930 445.4 L932 446.1 L934 446.9 L936 447.8 L938 448.6 L940 449.5 L942 450.3 L944 451 L946 451.8 L948 452.5 L950 453.1 L952 453.7 L954 454.2 L956 454.8 L958 455.3 L960 455.8 L962 456.3 L964 456.8 L966 457.3 L968 457.8 L970 458.3 L972 458.8 L974 459.3 L976 459.8 L978 460.4 L980 461 L982 461.5 L984 462.1 L986 462.7 L988 463.2 L990 463.7 L992 464.2 L994 464.7 L996 465.1 L998 465.5 L1000 465.8 L1002 466.2 L1004 466.5 L1006 466.8 L1008 467.1 L1010 467.4 L1012 467.6 L1014 467.9 L1016 468.1 L1018 468.3 L1020 468.4 L1022 468.6 L1024 468.6 L1026 468.7 L1028 468.8 L1030 468.8 L1032 468.9 L1034 469 L1036 469.1 L1038 469.3 L1040 469.6 L1042 469.9 L1044 470.2 L1046 470.5 L1048 470.9 L1050 471.3 L1052 471.6 L1054 472 L1056 472.3 L1058 472.6 L1060 473 L1062 473.3 L1064 473.6 L1066 473.9 L1068 474.2 L1070 474.5 L1072 474.8 L1074 475.1 L1076 475.4 L1078 475.7 L1080 476 L1082 476.3 L1084 476.5 L1086 476.8 L1088 477.1 L1090 477.3 L1092 477.6 L1094 477.8 L1096 478.1 L1098 478.3 L1100 478.5 L1102 478.8 L1104 479 L1106 479.2 L1108 479.4 L1110 479.6 L1112 479.8 L1114 480 L1116 480.2 L1118 480.4 L1120 480.6 L1122 480.8 L1124 480.9 L1126 481.1 L1128 481.2 L1130 481.3 L1132 481.4 L1134 481.4 L1136 481.4 L1138 481.5 L1140 481.5 L1142 481.5 L1144 481.6 L1146 481.6 L1148 481.6 L1150 481.6 L1152 481.6 L1154 481.6 L1156 481.6 L1158 481.6 L1160 481.7 L1162 481.7 L1164 481.7 L1166 481.7 L1168 481.7 L1170 481.7 L1172 481.7 L1174 481.7 L1176 481.7 L1178 481.7 L1180 481.7 L1182 481.7 L1184 481.7 L1186 481.7 L1188 481.7 L1190 481.8 L1192 481.8 L1194 481.8 L1196 481.8 L1198 481.8 L1200 481.8 L1202 481.8 L1204 481.8 L1206 481.8 L1208 481.8 L1210 481.8 L1212 481.8 L1214 481.8 L1216 481.8 L1218 481.8 L1220 481.8 L1222 481.8 L1224 481.8 L1226 481.8 L1228 481.8 L1230 481.8 L1232 481.8 L1234 481.8 L1236 481.9 L1238 481.9 L1240 481.9 L1242 481.9 L1244 481.9 L1246 481.9 L1248 481.9 L1250 481.9 L1297.9 481.9 L1297.9 481.9 L410.9 481.9 Z" fill="#3AC096" fill-opacity="0.7"/>
<path class="k" d="M748.5 481.9 V457.6"/>
<path class="k" d="M863 481.9 V432"/>
<path class="k" d="M997.8 481.9 V465.4"/>
<path class="k kr" d="M410.9 481.9 L468 481.9 L470 481.9 L472 481.9 L474 481.9 L476 481.9 L478 481.9 L480 481.9 L482 481.9 L484 481.9 L486 481.8 L488 481.8 L490 481.8 L492 481.8 L494 481.8 L496 481.8 L498 481.8 L500 481.8 L502 481.8 L504 481.8 L506 481.8 L508 481.8 L510 481.8 L512 481.8 L514 481.8 L516 481.8 L518 481.8 L520 481.8 L522 481.8 L524 481.8 L526 481.8 L528 481.8 L530 481.8 L532 481.8 L534 481.8 L536 481.8 L538 481.8 L540 481.7 L542 481.7 L544 481.7 L546 481.7 L548 481.7 L550 481.7 L552 481.7 L554 481.7 L556 481.7 L558 481.7 L560 481.7 L562 481.7 L564 481.7 L566 481.7 L568 481.7 L570 481.7 L572 481.7 L574 481.7 L576 481.6 L578 481.6 L580 481.6 L582 481.6 L584 481.6 L586 481.6 L588 481.6 L590 481.6 L592 481.5 L594 481.5 L596 481.5 L598 481.5 L600 481.5 L602 481.4 L604 481.4 L606 481.4 L608 481.4 L610 481.3 L612 481.3 L614 481.3 L616 481.2 L618 481.2 L620 481.2 L622 481.1 L624 481.1 L626 481 L628 480.9 L630 480.9 L632 480.8 L634 480.7 L636 480.5 L638 480.4 L640 480.3 L642 480.1 L644 479.9 L646 479.8 L648 479.6 L650 479.4 L652 479.3 L654 479.1 L656 478.9 L658 478.7 L660 478.4 L662 478.2 L664 478 L666 477.7 L668 477.5 L670 477.2 L672 476.9 L674 476.7 L676 476.4 L678 476.2 L680 475.9 L682 475.6 L684 475.3 L686 475.1 L688 474.8 L690 474.5 L692 474.2 L694 473.8 L696 473.5 L698 473.1 L700 472.7 L702 472.3 L704 471.8 L706 471.3 L708 470.8 L710 470.3 L712 469.7 L714 469.1 L716 468.4 L718 467.7 L720 467 L722 466.2 L724 465.5 L726 464.8 L728 464 L730 463.3 L732 462.6 L734 461.9 L736 461.2 L738 460.6 L740 460 L742 459.5 L744 458.9 L746 458.4 L748 457.8 L750 457.1 L752 456.4 L754 455.7 L756 455 L758 454.2 L760 453.5 L762 452.8 L764 452.2 L766 451.5 L768 450.8 L770 450.2 L772 449.6 L774 449 L776 448.3 L778 447.8 L780 447.2 L782 446.7 L784 446.2 L786 445.7 L788 445.2 L790 444.8 L792 444.4 L794 444 L796 443.7 L798 443.3 L800 443 L802 442.6 L804 442.3 L806 441.9 L808 441.5 L810 441.1 L812 440.7 L814 440.2 L816 439.7 L818 439.2 L820 438.7 L822 438.2 L824 437.7 L826 437.1 L828 436.6 L830 436.1 L832 435.6 L834 435.1 L836 434.7 L838 434.2 L840 433.7 L842 433.3 L844 432.9 L846 432.5 L848 432.2 L850 432 L852 431.8 L854 431.6 L856 431.5 L858 431.5 L860 431.6 L862 431.8 L864 432.2 L866 432.7 L868 433.3 L870 434 L872 434.7 L874 435.3 L876 435.8 L878 436.3 L880 436.9 L882 437.4 L884 437.8 L886 438.2 L888 438.5 L890 438.8 L892 438.9 L894 439 L896 439.1 L898 439.2 L900 439.2 L902 439.3 L904 439.3 L906 439.4 L908 439.5 L910 439.6 L912 439.8 L914 440.2 L916 440.6 L918 441.2 L920 441.8 L922 442.5 L924 443.2 L926 443.9 L928 444.6 L930 445.4 L932 446.1 L934 446.9 L936 447.8 L938 448.6 L940 449.5 L942 450.3 L944 451 L946 451.8 L948 452.5 L950 453.1 L952 453.7 L954 454.2 L956 454.8 L958 455.3 L960 455.8 L962 456.3 L964 456.8 L966 457.3 L968 457.8 L970 458.3 L972 458.8 L974 459.3 L976 459.8 L978 460.4 L980 461 L982 461.5 L984 462.1 L986 462.7 L988 463.2 L990 463.7 L992 464.2 L994 464.7 L996 465.1 L998 465.5 L1000 465.8 L1002 466.2 L1004 466.5 L1006 466.8 L1008 467.1 L1010 467.4 L1012 467.6 L1014 467.9 L1016 468.1 L1018 468.3 L1020 468.4 L1022 468.6 L1024 468.6 L1026 468.7 L1028 468.8 L1030 468.8 L1032 468.9 L1034 469 L1036 469.1 L1038 469.3 L1040 469.6 L1042 469.9 L1044 470.2 L1046 470.5 L1048 470.9 L1050 471.3 L1052 471.6 L1054 472 L1056 472.3 L1058 472.6 L1060 473 L1062 473.3 L1064 473.6 L1066 473.9 L1068 474.2 L1070 474.5 L1072 474.8 L1074 475.1 L1076 475.4 L1078 475.7 L1080 476 L1082 476.3 L1084 476.5 L1086 476.8 L1088 477.1 L1090 477.3 L1092 477.6 L1094 477.8 L1096 478.1 L1098 478.3 L1100 478.5 L1102 478.8 L1104 479 L1106 479.2 L1108 479.4 L1110 479.6 L1112 479.8 L1114 480 L1116 480.2 L1118 480.4 L1120 480.6 L1122 480.8 L1124 480.9 L1126 481.1 L1128 481.2 L1130 481.3 L1132 481.4 L1134 481.4 L1136 481.4 L1138 481.5 L1140 481.5 L1142 481.5 L1144 481.6 L1146 481.6 L1148 481.6 L1150 481.6 L1152 481.6 L1154 481.6 L1156 481.6 L1158 481.6 L1160 481.7 L1162 481.7 L1164 481.7 L1166 481.7 L1168 481.7 L1170 481.7 L1172 481.7 L1174 481.7 L1176 481.7 L1178 481.7 L1180 481.7 L1182 481.7 L1184 481.7 L1186 481.7 L1188 481.7 L1190 481.8 L1192 481.8 L1194 481.8 L1196 481.8 L1198 481.8 L1200 481.8 L1202 481.8 L1204 481.8 L1206 481.8 L1208 481.8 L1210 481.8 L1212 481.8 L1214 481.8 L1216 481.8 L1218 481.8 L1220 481.8 L1222 481.8 L1224 481.8 L1226 481.8 L1228 481.8 L1230 481.8 L1232 481.8 L1234 481.8 L1236 481.9 L1238 481.9 L1240 481.9 L1242 481.9 L1244 481.9 L1246 481.9 L1248 481.9 L1250 481.9 L1297.9 481.9"/>
</g>
<g>
<path d="M410.9 540.9 L606 540.9 L608 540.9 L610 540.8 L612 540.8 L614 540.8 L616 540.8 L618 540.7 L620 540.7 L622 540.7 L624 540.7 L626 540.6 L628 540.6 L630 540.6 L632 540.6 L634 540.5 L636 540.5 L638 540.4 L640 540.4 L642 540.4 L644 540.3 L646 540.3 L648 540.2 L650 540.2 L652 540.1 L654 540.1 L656 540 L658 540 L660 539.9 L662 539.9 L664 539.8 L666 539.7 L668 539.6 L670 539.5 L672 539.5 L674 539.3 L676 539.2 L678 539.1 L680 538.9 L682 538.7 L684 538.5 L686 538.3 L688 538 L690 537.8 L692 537.5 L694 537.2 L696 536.9 L698 536.6 L700 536.3 L702 536 L704 535.6 L706 535.3 L708 534.9 L710 534.5 L712 534.1 L714 533.7 L716 533.2 L718 532.8 L720 532.3 L722 531.9 L724 531.4 L726 531 L728 530.5 L730 530 L732 529.6 L734 529.1 L736 528.6 L738 528.1 L740 527.6 L742 527 L744 526.5 L746 525.9 L748 525.3 L750 524.7 L752 524.1 L754 523.4 L756 522.8 L758 522.1 L760 521.4 L762 520.6 L764 519.9 L766 519.1 L768 518.3 L770 517.4 L772 516.6 L774 515.7 L776 514.9 L778 514.1 L780 513.3 L782 512.5 L784 511.7 L786 510.9 L788 510.2 L790 509.4 L792 508.6 L794 507.9 L796 507.1 L798 506.3 L800 505.6 L802 504.8 L804 504 L806 503.2 L808 502.4 L810 501.6 L812 500.8 L814 500 L816 499.2 L818 498.4 L820 497.6 L822 496.7 L824 495.9 L826 495.1 L828 494.3 L830 493.5 L832 492.6 L834 491.8 L836 491 L838 490.2 L840 489.4 L842 488.7 L844 488 L846 487.4 L848 486.7 L850 486.1 L852 485.5 L854 484.9 L856 484.4 L858 484 L860 483.6 L862 483.3 L864 483 L866 482.8 L868 482.6 L870 482.5 L872 482.5 L874 482.6 L876 482.8 L878 483 L880 483.2 L882 483.4 L884 483.7 L886 484 L888 484.3 L890 484.6 L892 485 L894 485.3 L896 485.7 L898 486.1 L900 486.4 L902 486.8 L904 487.3 L906 487.7 L908 488.1 L910 488.6 L912 489 L914 489.5 L916 490 L918 490.5 L920 491 L922 491.5 L924 492 L926 492.5 L928 493.1 L930 493.6 L932 494.1 L934 494.7 L936 495.3 L938 495.9 L940 496.6 L942 497.3 L944 498.1 L946 498.9 L948 499.8 L950 500.7 L952 501.7 L954 502.6 L956 503.6 L958 504.6 L960 505.7 L962 506.7 L964 507.7 L966 508.8 L968 509.9 L970 511.1 L972 512.2 L974 513.3 L976 514.3 L978 515.3 L980 516.2 L982 517.1 L984 518 L986 518.8 L988 519.6 L990 520.3 L992 521.1 L994 521.7 L996 522.4 L998 523 L1000 523.6 L1002 524.1 L1004 524.6 L1006 525.1 L1008 525.6 L1010 526.1 L1012 526.5 L1014 527 L1016 527.5 L1018 527.9 L1020 528.4 L1022 528.8 L1024 529.2 L1026 529.7 L1028 530.1 L1030 530.5 L1032 530.9 L1034 531.3 L1036 531.7 L1038 532.1 L1040 532.5 L1042 532.9 L1044 533.3 L1046 533.7 L1048 534 L1050 534.4 L1052 534.7 L1054 535.1 L1056 535.4 L1058 535.7 L1060 536 L1062 536.3 L1064 536.6 L1066 536.8 L1068 537.1 L1070 537.4 L1072 537.6 L1074 537.8 L1076 538.1 L1078 538.3 L1080 538.4 L1082 538.6 L1084 538.7 L1086 538.8 L1088 538.9 L1090 539 L1092 539.1 L1094 539.2 L1096 539.2 L1098 539.3 L1100 539.4 L1102 539.5 L1104 539.5 L1106 539.6 L1108 539.7 L1110 539.7 L1112 539.8 L1114 539.9 L1116 539.9 L1118 540 L1120 540 L1122 540.1 L1124 540.2 L1126 540.2 L1128 540.3 L1130 540.3 L1132 540.4 L1134 540.4 L1136 540.5 L1138 540.5 L1140 540.6 L1142 540.6 L1144 540.7 L1146 540.7 L1148 540.8 L1150 540.8 L1152 540.8 L1154 540.9 L1297.9 540.9 L1297.9 540.9 L410.9 540.9 Z" fill="#3DBC5C" fill-opacity="0.7"/>
<path class="k" d="M780.2 540.9 V513.2"/>
<path class="k" d="M879.2 540.9 V483.1"/>
<path class="k" d="M979.8 540.9 V516.1"/>
<path class="k kr" d="M410.9 540.9 L606 540.9 L608 540.9 L610 540.8 L612 540.8 L614 540.8 L616 540.8 L618 540.7 L620 540.7 L622 540.7 L624 540.7 L626 540.6 L628 540.6 L630 540.6 L632 540.6 L634 540.5 L636 540.5 L638 540.4 L640 540.4 L642 540.4 L644 540.3 L646 540.3 L648 540.2 L650 540.2 L652 540.1 L654 540.1 L656 540 L658 540 L660 539.9 L662 539.9 L664 539.8 L666 539.7 L668 539.6 L670 539.5 L672 539.5 L674 539.3 L676 539.2 L678 539.1 L680 538.9 L682 538.7 L684 538.5 L686 538.3 L688 538 L690 537.8 L692 537.5 L694 537.2 L696 536.9 L698 536.6 L700 536.3 L702 536 L704 535.6 L706 535.3 L708 534.9 L710 534.5 L712 534.1 L714 533.7 L716 533.2 L718 532.8 L720 532.3 L722 531.9 L724 531.4 L726 531 L728 530.5 L730 530 L732 529.6 L734 529.1 L736 528.6 L738 528.1 L740 527.6 L742 527 L744 526.5 L746 525.9 L748 525.3 L750 524.7 L752 524.1 L754 523.4 L756 522.8 L758 522.1 L760 521.4 L762 520.6 L764 519.9 L766 519.1 L768 518.3 L770 517.4 L772 516.6 L774 515.7 L776 514.9 L778 514.1 L780 513.3 L782 512.5 L784 511.7 L786 510.9 L788 510.2 L790 509.4 L792 508.6 L794 507.9 L796 507.1 L798 506.3 L800 505.6 L802 504.8 L804 504 L806 503.2 L808 502.4 L810 501.6 L812 500.8 L814 500 L816 499.2 L818 498.4 L820 497.6 L822 496.7 L824 495.9 L826 495.1 L828 494.3 L830 493.5 L832 492.6 L834 491.8 L836 491 L838 490.2 L840 489.4 L842 488.7 L844 488 L846 487.4 L848 486.7 L850 486.1 L852 485.5 L854 484.9 L856 484.4 L858 484 L860 483.6 L862 483.3 L864 483 L866 482.8 L868 482.6 L870 482.5 L872 482.5 L874 482.6 L876 482.8 L878 483 L880 483.2 L882 483.4 L884 483.7 L886 484 L888 484.3 L890 484.6 L892 485 L894 485.3 L896 485.7 L898 486.1 L900 486.4 L902 486.8 L904 487.3 L906 487.7 L908 488.1 L910 488.6 L912 489 L914 489.5 L916 490 L918 490.5 L920 491 L922 491.5 L924 492 L926 492.5 L928 493.1 L930 493.6 L932 494.1 L934 494.7 L936 495.3 L938 495.9 L940 496.6 L942 497.3 L944 498.1 L946 498.9 L948 499.8 L950 500.7 L952 501.7 L954 502.6 L956 503.6 L958 504.6 L960 505.7 L962 506.7 L964 507.7 L966 508.8 L968 509.9 L970 511.1 L972 512.2 L974 513.3 L976 514.3 L978 515.3 L980 516.2 L982 517.1 L984 518 L986 518.8 L988 519.6 L990 520.3 L992 521.1 L994 521.7 L996 522.4 L998 523 L1000 523.6 L1002 524.1 L1004 524.6 L1006 525.1 L1008 525.6 L1010 526.1 L1012 526.5 L1014 527 L1016 527.5 L1018 527.9 L1020 528.4 L1022 528.8 L1024 529.2 L1026 529.7 L1028 530.1 L1030 530.5 L1032 530.9 L1034 531.3 L1036 531.7 L1038 532.1 L1040 532.5 L1042 532.9 L1044 533.3 L1046 533.7 L1048 534 L1050 534.4 L1052 534.7 L1054 535.1 L1056 535.4 L1058 535.7 L1060 536 L1062 536.3 L1064 536.6 L1066 536.8 L1068 537.1 L1070 537.4 L1072 537.6 L1074 537.8 L1076 538.1 L1078 538.3 L1080 538.4 L1082 538.6 L1084 538.7 L1086 538.8 L1088 538.9 L1090 539 L1092 539.1 L1094 539.2 L1096 539.2 L1098 539.3 L1100 539.4 L1102 539.5 L1104 539.5 L1106 539.6 L1108 539.7 L1110 539.7 L1112 539.8 L1114 539.9 L1116 539.9 L1118 540 L1120 540 L1122 540.1 L1124 540.2 L1126 540.2 L1128 540.3 L1130 540.3 L1132 540.4 L1134 540.4 L1136 540.5 L1138 540.5 L1140 540.6 L1142 540.6 L1144 540.7 L1146 540.7 L1148 540.8 L1150 540.8 L1152 540.8 L1154 540.9 L1297.9 540.9"/>
</g>
<g>
<path d="M410.9 599.9 L506 599.9 L508 599.9 L510 599.9 L512 599.8 L514 599.8 L516 599.8 L518 599.8 L520 599.8 L522 599.7 L524 599.7 L526 599.7 L528 599.7 L530 599.6 L532 599.6 L534 599.6 L536 599.5 L538 599.5 L540 599.5 L542 599.4 L544 599.4 L546 599.3 L548 599.3 L550 599.2 L552 599.1 L554 599 L556 598.8 L558 598.7 L560 598.5 L562 598.3 L564 598 L566 597.7 L568 597.4 L570 597.1 L572 596.8 L574 596.4 L576 596 L578 595.6 L580 595.2 L582 594.7 L584 594.3 L586 593.9 L588 593.4 L590 592.9 L592 592.4 L594 591.9 L596 591.4 L598 590.8 L600 590.3 L602 589.7 L604 589.1 L606 588.5 L608 587.9 L610 587.2 L612 586.6 L614 585.9 L616 585.2 L618 584.5 L620 583.8 L622 583 L624 582.3 L626 581.5 L628 580.7 L630 579.9 L632 579 L634 578.2 L636 577.3 L638 576.4 L640 575.5 L642 574.6 L644 573.8 L646 572.9 L648 572.1 L650 571.2 L652 570.4 L654 569.7 L656 568.9 L658 568.1 L660 567.3 L662 566.5 L664 565.8 L666 565 L668 564.3 L670 563.6 L672 563.1 L674 562.6 L676 562.1 L678 561.7 L680 561.3 L682 560.9 L684 560.6 L686 560.3 L688 560 L690 559.7 L692 559.4 L694 559.1 L696 558.9 L698 558.6 L700 558.4 L702 558.2 L704 558 L706 557.8 L708 557.5 L710 557.2 L712 556.9 L714 556.6 L716 556.3 L718 556 L720 555.6 L722 555.2 L724 554.9 L726 554.5 L728 554.1 L730 553.7 L732 553.3 L734 552.8 L736 552.3 L738 551.7 L740 551 L742 550.2 L744 549.4 L746 548.6 L748 547.9 L750 547.2 L752 546.7 L754 546.2 L756 545.7 L758 545.3 L760 544.9 L762 544.6 L764 544.4 L766 544.3 L768 544.2 L770 544.1 L772 544 L774 544.1 L776 544.2 L778 544.5 L780 544.8 L782 545.2 L784 545.6 L786 546.1 L788 546.7 L790 547.3 L792 548 L794 548.7 L796 549.6 L798 550.4 L800 551.3 L802 552.2 L804 553.1 L806 553.9 L808 554.7 L810 555.5 L812 556.2 L814 556.9 L816 557.6 L818 558.3 L820 558.9 L822 559.6 L824 560.2 L826 560.8 L828 561.5 L830 562 L832 562.6 L834 563.2 L836 563.7 L838 564.2 L840 564.6 L842 565.1 L844 565.5 L846 565.9 L848 566.3 L850 566.7 L852 567.1 L854 567.6 L856 568 L858 568.5 L860 569 L862 569.5 L864 570.1 L866 570.7 L868 571.3 L870 572 L872 572.7 L874 573.4 L876 574.1 L878 574.8 L880 575.5 L882 576.2 L884 576.9 L886 577.6 L888 578.3 L890 579 L892 579.7 L894 580.4 L896 581.1 L898 581.7 L900 582.4 L902 583 L904 583.6 L906 584.1 L908 584.7 L910 585.3 L912 585.8 L914 586.4 L916 586.9 L918 587.4 L920 588 L922 588.5 L924 589 L926 589.6 L928 590.1 L930 590.7 L932 591.2 L934 591.8 L936 592.3 L938 592.8 L940 593.3 L942 593.8 L944 594.2 L946 594.6 L948 595 L950 595.3 L952 595.6 L954 595.9 L956 596.2 L958 596.5 L960 596.7 L962 597 L964 597.2 L966 597.4 L968 597.6 L970 597.7 L972 597.8 L974 597.9 L976 598 L978 598 L980 598.1 L982 598.1 L984 598.2 L986 598.2 L988 598.3 L990 598.3 L992 598.3 L994 598.4 L996 598.4 L998 598.4 L1000 598.4 L1002 598.5 L1004 598.5 L1006 598.5 L1008 598.6 L1010 598.6 L1012 598.7 L1014 598.7 L1016 598.8 L1018 598.8 L1020 598.9 L1022 599 L1024 599 L1026 599.1 L1028 599.2 L1030 599.3 L1032 599.3 L1034 599.4 L1036 599.4 L1038 599.5 L1040 599.5 L1042 599.6 L1044 599.6 L1046 599.7 L1048 599.7 L1050 599.7 L1052 599.7 L1054 599.8 L1056 599.8 L1058 599.8 L1060 599.8 L1062 599.9 L1064 599.9 L1066 599.9 L1297.9 599.9 L1297.9 599.9 L410.9 599.9 Z" fill="#60B62C" fill-opacity="0.7"/>
<path class="k" d="M657 599.9 V568.5"/>
<path class="k" d="M764.8 599.9 V544.3"/>
<path class="k" d="M877.2 599.9 V574.5"/>
<path class="k kr" d="M410.9 599.9 L506 599.9 L508 599.9 L510 599.9 L512 599.8 L514 599.8 L516 599.8 L518 599.8 L520 599.8 L522 599.7 L524 599.7 L526 599.7 L528 599.7 L530 599.6 L532 599.6 L534 599.6 L536 599.5 L538 599.5 L540 599.5 L542 599.4 L544 599.4 L546 599.3 L548 599.3 L550 599.2 L552 599.1 L554 599 L556 598.8 L558 598.7 L560 598.5 L562 598.3 L564 598 L566 597.7 L568 597.4 L570 597.1 L572 596.8 L574 596.4 L576 596 L578 595.6 L580 595.2 L582 594.7 L584 594.3 L586 593.9 L588 593.4 L590 592.9 L592 592.4 L594 591.9 L596 591.4 L598 590.8 L600 590.3 L602 589.7 L604 589.1 L606 588.5 L608 587.9 L610 587.2 L612 586.6 L614 585.9 L616 585.2 L618 584.5 L620 583.8 L622 583 L624 582.3 L626 581.5 L628 580.7 L630 579.9 L632 579 L634 578.2 L636 577.3 L638 576.4 L640 575.5 L642 574.6 L644 573.8 L646 572.9 L648 572.1 L650 571.2 L652 570.4 L654 569.7 L656 568.9 L658 568.1 L660 567.3 L662 566.5 L664 565.8 L666 565 L668 564.3 L670 563.6 L672 563.1 L674 562.6 L676 562.1 L678 561.7 L680 561.3 L682 560.9 L684 560.6 L686 560.3 L688 560 L690 559.7 L692 559.4 L694 559.1 L696 558.9 L698 558.6 L700 558.4 L702 558.2 L704 558 L706 557.8 L708 557.5 L710 557.2 L712 556.9 L714 556.6 L716 556.3 L718 556 L720 555.6 L722 555.2 L724 554.9 L726 554.5 L728 554.1 L730 553.7 L732 553.3 L734 552.8 L736 552.3 L738 551.7 L740 551 L742 550.2 L744 549.4 L746 548.6 L748 547.9 L750 547.2 L752 546.7 L754 546.2 L756 545.7 L758 545.3 L760 544.9 L762 544.6 L764 544.4 L766 544.3 L768 544.2 L770 544.1 L772 544 L774 544.1 L776 544.2 L778 544.5 L780 544.8 L782 545.2 L784 545.6 L786 546.1 L788 546.7 L790 547.3 L792 548 L794 548.7 L796 549.6 L798 550.4 L800 551.3 L802 552.2 L804 553.1 L806 553.9 L808 554.7 L810 555.5 L812 556.2 L814 556.9 L816 557.6 L818 558.3 L820 558.9 L822 559.6 L824 560.2 L826 560.8 L828 561.5 L830 562 L832 562.6 L834 563.2 L836 563.7 L838 564.2 L840 564.6 L842 565.1 L844 565.5 L846 565.9 L848 566.3 L850 566.7 L852 567.1 L854 567.6 L856 568 L858 568.5 L860 569 L862 569.5 L864 570.1 L866 570.7 L868 571.3 L870 572 L872 572.7 L874 573.4 L876 574.1 L878 574.8 L880 575.5 L882 576.2 L884 576.9 L886 577.6 L888 578.3 L890 579 L892 579.7 L894 580.4 L896 581.1 L898 581.7 L900 582.4 L902 583 L904 583.6 L906 584.1 L908 584.7 L910 585.3 L912 585.8 L914 586.4 L916 586.9 L918 587.4 L920 588 L922 588.5 L924 589 L926 589.6 L928 590.1 L930 590.7 L932 591.2 L934 591.8 L936 592.3 L938 592.8 L940 593.3 L942 593.8 L944 594.2 L946 594.6 L948 595 L950 595.3 L952 595.6 L954 595.9 L956 596.2 L958 596.5 L960 596.7 L962 597 L964 597.2 L966 597.4 L968 597.6 L970 597.7 L972 597.8 L974 597.9 L976 598 L978 598 L980 598.1 L982 598.1 L984 598.2 L986 598.2 L988 598.3 L990 598.3 L992 598.3 L994 598.4 L996 598.4 L998 598.4 L1000 598.4 L1002 598.5 L1004 598.5 L1006 598.5 L1008 598.6 L1010 598.6 L1012 598.7 L1014 598.7 L1016 598.8 L1018 598.8 L1020 598.9 L1022 599 L1024 599 L1026 599.1 L1028 599.2 L1030 599.3 L1032 599.3 L1034 599.4 L1036 599.4 L1038 599.5 L1040 599.5 L1042 599.6 L1044 599.6 L1046 599.7 L1048 599.7 L1050 599.7 L1052 599.7 L1054 599.8 L1056 599.8 L1058 599.8 L1060 599.8 L1062 599.9 L1064 599.9 L1066 599.9 L1297.9 599.9"/>
</g>
<g>
<path d="M410.9 658.9 L420 658.9 L422 658.9 L424 658.9 L426 658.9 L428 658.8 L430 658.8 L432 658.8 L434 658.8 L436 658.8 L438 658.8 L440 658.8 L442 658.8 L444 658.8 L446 658.8 L448 658.8 L450 658.8 L452 658.8 L454 658.8 L456 658.7 L458 658.7 L460 658.7 L462 658.7 L464 658.7 L466 658.7 L468 658.7 L470 658.7 L472 658.7 L474 658.7 L476 658.7 L478 658.7 L480 658.6 L482 658.6 L484 658.6 L486 658.6 L488 658.6 L490 658.6 L492 658.6 L494 658.6 L496 658.6 L498 658.6 L500 658.6 L502 658.6 L504 658.6 L506 658.5 L508 658.5 L510 658.5 L512 658.5 L514 658.5 L516 658.5 L518 658.5 L520 658.5 L522 658.5 L524 658.5 L526 658.5 L528 658.4 L530 658.4 L532 658.4 L534 658.4 L536 658.4 L538 658.4 L540 658.4 L542 658.4 L544 658.4 L546 658.4 L548 658.4 L550 658.4 L552 658.3 L554 658.3 L556 658.3 L558 658.3 L560 658.3 L562 658.3 L564 658.3 L566 658.3 L568 658.3 L570 658.3 L572 658.3 L574 658.3 L576 658.3 L578 658.2 L580 658.2 L582 658.2 L584 658.2 L586 658.2 L588 658.2 L590 658.2 L592 658.2 L594 658.1 L596 658.1 L598 658.1 L600 658.1 L602 658.1 L604 658 L606 658 L608 658 L610 657.9 L612 657.8 L614 657.8 L616 657.7 L618 657.6 L620 657.6 L622 657.5 L624 657.4 L626 657.3 L628 657.2 L630 657.1 L632 657 L634 656.8 L636 656.7 L638 656.6 L640 656.4 L642 656.3 L644 656.1 L646 655.9 L648 655.8 L650 655.6 L652 655.4 L654 655.3 L656 655.1 L658 654.9 L660 654.7 L662 654.6 L664 654.4 L666 654.2 L668 653.9 L670 653.7 L672 653.5 L674 653.2 L676 652.9 L678 652.6 L680 652.3 L682 652 L684 651.6 L686 651.2 L688 650.8 L690 650.4 L692 650 L694 649.5 L696 649 L698 648.6 L700 648.1 L702 647.6 L704 647 L706 646.5 L708 645.9 L710 645.3 L712 644.7 L714 644 L716 643.4 L718 642.8 L720 642.1 L722 641.5 L724 640.9 L726 640.3 L728 639.7 L730 639.2 L732 638.6 L734 638.1 L736 637.5 L738 637 L740 636.4 L742 635.9 L744 635.4 L746 634.9 L748 634.3 L750 633.8 L752 633.2 L754 632.6 L756 632 L758 631.5 L760 630.9 L762 630.3 L764 629.7 L766 629.2 L768 628.6 L770 628 L772 627.5 L774 626.9 L776 626.3 L778 625.7 L780 625.1 L782 624.4 L784 623.8 L786 623.1 L788 622.3 L790 621.6 L792 620.7 L794 619.9 L796 619 L798 618.1 L800 617.2 L802 616.3 L804 615.4 L806 614.6 L808 613.8 L810 613 L812 612.2 L814 611.5 L816 610.8 L818 610.1 L820 609.4 L822 608.8 L824 608.2 L826 607.7 L828 607.2 L830 606.8 L832 606.5 L834 606.1 L836 605.8 L838 605.5 L840 605.3 L842 605.2 L844 605.2 L846 605.2 L848 605.3 L850 605.4 L852 605.6 L854 605.7 L856 605.9 L858 606.1 L860 606.2 L862 606.3 L864 606.5 L866 606.6 L868 606.7 L870 606.8 L872 607 L874 607.1 L876 607.2 L878 607.4 L880 607.6 L882 607.7 L884 607.9 L886 608.1 L888 608.3 L890 608.6 L892 608.8 L894 609.1 L896 609.4 L898 609.7 L900 610.1 L902 610.5 L904 610.9 L906 611.4 L908 612 L910 612.7 L912 613.5 L914 614.3 L916 615.3 L918 616.2 L920 617.2 L922 618.1 L924 619.1 L926 620 L928 621 L930 621.9 L932 622.9 L934 623.9 L936 624.9 L938 625.9 L940 626.9 L942 627.8 L944 628.7 L946 629.6 L948 630.4 L950 631.1 L952 631.9 L954 632.6 L956 633.3 L958 634 L960 634.6 L962 635.2 L964 635.8 L966 636.4 L968 636.9 L970 637.5 L972 637.9 L974 638.4 L976 638.8 L978 639.2 L980 639.6 L982 640 L984 640.3 L986 640.7 L988 641 L990 641.4 L992 641.8 L994 642.2 L996 642.6 L998 643 L1000 643.5 L1002 644 L1004 644.5 L1006 645.1 L1008 645.6 L1010 646.2 L1012 646.8 L1014 647.5 L1016 648.1 L1018 648.7 L1020 649.3 L1022 649.8 L1024 650.3 L1026 650.8 L1028 651.2 L1030 651.6 L1032 652 L1034 652.4 L1036 652.7 L1038 653 L1040 653.3 L1042 653.5 L1044 653.7 L1046 653.9 L1048 654.1 L1050 654.3 L1052 654.4 L1054 654.6 L1056 654.7 L1058 654.8 L1060 655 L1062 655.1 L1064 655.2 L1066 655.3 L1068 655.5 L1070 655.6 L1072 655.7 L1074 655.8 L1076 655.9 L1078 656 L1080 656.1 L1082 656.2 L1084 656.3 L1086 656.4 L1088 656.5 L1090 656.6 L1092 656.7 L1094 656.8 L1096 656.8 L1098 656.9 L1100 657 L1102 657.1 L1104 657.2 L1106 657.3 L1108 657.4 L1110 657.4 L1112 657.5 L1114 657.6 L1116 657.7 L1118 657.8 L1120 657.9 L1122 658 L1124 658 L1126 658.1 L1128 658.2 L1130 658.3 L1132 658.3 L1134 658.4 L1136 658.4 L1138 658.5 L1140 658.5 L1142 658.6 L1144 658.6 L1146 658.7 L1148 658.7 L1150 658.8 L1152 658.8 L1154 658.8 L1156 658.8 L1158 658.8 L1160 658.9 L1162 658.9 L1164 658.9 L1166 658.9 L1168 658.9 L1170 658.9 L1172 658.9 L1174 658.9 L1176 658.9 L1178 658.9 L1180 658.9 L1182 658.9 L1184 658.9 L1297.9 658.9 L1297.9 658.9 L410.9 658.9 Z" fill="#98A92C" fill-opacity="0.7"/>
<path class="k" d="M746.1 658.9 V634.8"/>
<path class="k" d="M858.4 658.9 V606.1"/>
<path class="k" d="M970.5 658.9 V637.6"/>
<path class="k kr" d="M410.9 658.9 L420 658.9 L422 658.9 L424 658.9 L426 658.9 L428 658.8 L430 658.8 L432 658.8 L434 658.8 L436 658.8 L438 658.8 L440 658.8 L442 658.8 L444 658.8 L446 658.8 L448 658.8 L450 658.8 L452 658.8 L454 658.8 L456 658.7 L458 658.7 L460 658.7 L462 658.7 L464 658.7 L466 658.7 L468 658.7 L470 658.7 L472 658.7 L474 658.7 L476 658.7 L478 658.7 L480 658.6 L482 658.6 L484 658.6 L486 658.6 L488 658.6 L490 658.6 L492 658.6 L494 658.6 L496 658.6 L498 658.6 L500 658.6 L502 658.6 L504 658.6 L506 658.5 L508 658.5 L510 658.5 L512 658.5 L514 658.5 L516 658.5 L518 658.5 L520 658.5 L522 658.5 L524 658.5 L526 658.5 L528 658.4 L530 658.4 L532 658.4 L534 658.4 L536 658.4 L538 658.4 L540 658.4 L542 658.4 L544 658.4 L546 658.4 L548 658.4 L550 658.4 L552 658.3 L554 658.3 L556 658.3 L558 658.3 L560 658.3 L562 658.3 L564 658.3 L566 658.3 L568 658.3 L570 658.3 L572 658.3 L574 658.3 L576 658.3 L578 658.2 L580 658.2 L582 658.2 L584 658.2 L586 658.2 L588 658.2 L590 658.2 L592 658.2 L594 658.1 L596 658.1 L598 658.1 L600 658.1 L602 658.1 L604 658 L606 658 L608 658 L610 657.9 L612 657.8 L614 657.8 L616 657.7 L618 657.6 L620 657.6 L622 657.5 L624 657.4 L626 657.3 L628 657.2 L630 657.1 L632 657 L634 656.8 L636 656.7 L638 656.6 L640 656.4 L642 656.3 L644 656.1 L646 655.9 L648 655.8 L650 655.6 L652 655.4 L654 655.3 L656 655.1 L658 654.9 L660 654.7 L662 654.6 L664 654.4 L666 654.2 L668 653.9 L670 653.7 L672 653.5 L674 653.2 L676 652.9 L678 652.6 L680 652.3 L682 652 L684 651.6 L686 651.2 L688 650.8 L690 650.4 L692 650 L694 649.5 L696 649 L698 648.6 L700 648.1 L702 647.6 L704 647 L706 646.5 L708 645.9 L710 645.3 L712 644.7 L714 644 L716 643.4 L718 642.8 L720 642.1 L722 641.5 L724 640.9 L726 640.3 L728 639.7 L730 639.2 L732 638.6 L734 638.1 L736 637.5 L738 637 L740 636.4 L742 635.9 L744 635.4 L746 634.9 L748 634.3 L750 633.8 L752 633.2 L754 632.6 L756 632 L758 631.5 L760 630.9 L762 630.3 L764 629.7 L766 629.2 L768 628.6 L770 628 L772 627.5 L774 626.9 L776 626.3 L778 625.7 L780 625.1 L782 624.4 L784 623.8 L786 623.1 L788 622.3 L790 621.6 L792 620.7 L794 619.9 L796 619 L798 618.1 L800 617.2 L802 616.3 L804 615.4 L806 614.6 L808 613.8 L810 613 L812 612.2 L814 611.5 L816 610.8 L818 610.1 L820 609.4 L822 608.8 L824 608.2 L826 607.7 L828 607.2 L830 606.8 L832 606.5 L834 606.1 L836 605.8 L838 605.5 L840 605.3 L842 605.2 L844 605.2 L846 605.2 L848 605.3 L850 605.4 L852 605.6 L854 605.7 L856 605.9 L858 606.1 L860 606.2 L862 606.3 L864 606.5 L866 606.6 L868 606.7 L870 606.8 L872 607 L874 607.1 L876 607.2 L878 607.4 L880 607.6 L882 607.7 L884 607.9 L886 608.1 L888 608.3 L890 608.6 L892 608.8 L894 609.1 L896 609.4 L898 609.7 L900 610.1 L902 610.5 L904 610.9 L906 611.4 L908 612 L910 612.7 L912 613.5 L914 614.3 L916 615.3 L918 616.2 L920 617.2 L922 618.1 L924 619.1 L926 620 L928 621 L930 621.9 L932 622.9 L934 623.9 L936 624.9 L938 625.9 L940 626.9 L942 627.8 L944 628.7 L946 629.6 L948 630.4 L950 631.1 L952 631.9 L954 632.6 L956 633.3 L958 634 L960 634.6 L962 635.2 L964 635.8 L966 636.4 L968 636.9 L970 637.5 L972 637.9 L974 638.4 L976 638.8 L978 639.2 L980 639.6 L982 640 L984 640.3 L986 640.7 L988 641 L990 641.4 L992 641.8 L994 642.2 L996 642.6 L998 643 L1000 643.5 L1002 644 L1004 644.5 L1006 645.1 L1008 645.6 L1010 646.2 L1012 646.8 L1014 647.5 L1016 648.1 L1018 648.7 L1020 649.3 L1022 649.8 L1024 650.3 L1026 650.8 L1028 651.2 L1030 651.6 L1032 652 L1034 652.4 L1036 652.7 L1038 653 L1040 653.3 L1042 653.5 L1044 653.7 L1046 653.9 L1048 654.1 L1050 654.3 L1052 654.4 L1054 654.6 L1056 654.7 L1058 654.8 L1060 655 L1062 655.1 L1064 655.2 L1066 655.3 L1068 655.5 L1070 655.6 L1072 655.7 L1074 655.8 L1076 655.9 L1078 656 L1080 656.1 L1082 656.2 L1084 656.3 L1086 656.4 L1088 656.5 L1090 656.6 L1092 656.7 L1094 656.8 L1096 656.8 L1098 656.9 L1100 657 L1102 657.1 L1104 657.2 L1106 657.3 L1108 657.4 L1110 657.4 L1112 657.5 L1114 657.6 L1116 657.7 L1118 657.8 L1120 657.9 L1122 658 L1124 658 L1126 658.1 L1128 658.2 L1130 658.3 L1132 658.3 L1134 658.4 L1136 658.4 L1138 658.5 L1140 658.5 L1142 658.6 L1144 658.6 L1146 658.7 L1148 658.7 L1150 658.8 L1152 658.8 L1154 658.8 L1156 658.8 L1158 658.8 L1160 658.9 L1162 658.9 L1164 658.9 L1166 658.9 L1168 658.9 L1170 658.9 L1172 658.9 L1174 658.9 L1176 658.9 L1178 658.9 L1180 658.9 L1182 658.9 L1184 658.9 L1297.9 658.9"/>
</g>
<g>
<path d="M410.9 717.9 L456 717.9 L458 717.9 L460 717.9 L462 717.9 L464 717.9 L466 717.9 L468 717.9 L470 717.8 L472 717.8 L474 717.8 L476 717.8 L478 717.8 L480 717.8 L482 717.8 L484 717.8 L486 717.8 L488 717.8 L490 717.8 L492 717.8 L494 717.8 L496 717.8 L498 717.8 L500 717.8 L502 717.8 L504 717.8 L506 717.8 L508 717.7 L510 717.7 L512 717.7 L514 717.7 L516 717.7 L518 717.7 L520 717.7 L522 717.7 L524 717.7 L526 717.7 L528 717.7 L530 717.7 L532 717.6 L534 717.6 L536 717.6 L538 717.6 L540 717.6 L542 717.6 L544 717.6 L546 717.6 L548 717.6 L550 717.5 L552 717.5 L554 717.5 L556 717.5 L558 717.4 L560 717.3 L562 717.3 L564 717.2 L566 717.1 L568 717.1 L570 717 L572 716.9 L574 716.8 L576 716.8 L578 716.7 L580 716.6 L582 716.5 L584 716.5 L586 716.4 L588 716.3 L590 716.2 L592 716.1 L594 716.1 L596 716 L598 715.9 L600 715.8 L602 715.7 L604 715.6 L606 715.5 L608 715.4 L610 715.3 L612 715.2 L614 715.1 L616 715 L618 714.9 L620 714.8 L622 714.7 L624 714.6 L626 714.5 L628 714.4 L630 714.3 L632 714.1 L634 714 L636 713.9 L638 713.7 L640 713.6 L642 713.4 L644 713.3 L646 713.1 L648 713 L650 712.8 L652 712.6 L654 712.4 L656 712.2 L658 712 L660 711.8 L662 711.5 L664 711.3 L666 711 L668 710.8 L670 710.5 L672 710.2 L674 709.9 L676 709.6 L678 709.3 L680 709 L682 708.7 L684 708.4 L686 708 L688 707.7 L690 707.3 L692 706.9 L694 706.5 L696 706.1 L698 705.7 L700 705.3 L702 704.8 L704 704.4 L706 703.9 L708 703.3 L710 702.8 L712 702.2 L714 701.7 L716 701.1 L718 700.5 L720 700 L722 699.4 L724 698.8 L726 698.3 L728 697.8 L730 697.2 L732 696.7 L734 696.1 L736 695.5 L738 694.9 L740 694.2 L742 693.5 L744 692.7 L746 692 L748 691.2 L750 690.4 L752 689.6 L754 688.9 L756 688.2 L758 687.5 L760 686.9 L762 686.3 L764 685.7 L766 685.2 L768 684.7 L770 684.2 L772 683.7 L774 683.2 L776 682.7 L778 682.3 L780 681.9 L782 681.5 L784 681.1 L786 680.8 L788 680.5 L790 680.2 L792 680 L794 679.7 L796 679.5 L798 679.3 L800 679.1 L802 678.9 L804 678.6 L806 678.4 L808 678.2 L810 677.9 L812 677.6 L814 677.3 L816 677 L818 676.6 L820 676.2 L822 675.9 L824 675.5 L826 675.2 L828 674.9 L830 674.7 L832 674.5 L834 674.3 L836 674.1 L838 673.9 L840 673.8 L842 673.7 L844 673.6 L846 673.6 L848 673.7 L850 673.8 L852 674 L854 674.2 L856 674.5 L858 674.8 L860 675.2 L862 675.7 L864 676.1 L866 676.7 L868 677.2 L870 677.6 L872 678 L874 678.3 L876 678.6 L878 678.9 L880 679.1 L882 679.3 L884 679.6 L886 679.7 L888 679.9 L890 680.1 L892 680.3 L894 680.4 L896 680.6 L898 680.8 L900 680.9 L902 681 L904 681.1 L906 681.2 L908 681.3 L910 681.4 L912 681.5 L914 681.6 L916 681.8 L918 681.9 L920 682 L922 682.2 L924 682.4 L926 682.6 L928 682.9 L930 683.3 L932 683.7 L934 684.1 L936 684.5 L938 685 L940 685.5 L942 686 L944 686.6 L946 687.1 L948 687.6 L950 688.1 L952 688.6 L954 689.2 L956 689.8 L958 690.4 L960 691 L962 691.7 L964 692.3 L966 692.9 L968 693.5 L970 694 L972 694.5 L974 695 L976 695.5 L978 695.9 L980 696.3 L982 696.7 L984 697.1 L986 697.5 L988 697.9 L990 698.3 L992 698.6 L994 699 L996 699.3 L998 699.7 L1000 700 L1002 700.3 L1004 700.7 L1006 701 L1008 701.3 L1010 701.6 L1012 701.9 L1014 702.2 L1016 702.6 L1018 702.9 L1020 703.2 L1022 703.5 L1024 703.8 L1026 704.1 L1028 704.5 L1030 704.8 L1032 705.1 L1034 705.5 L1036 705.8 L1038 706.2 L1040 706.6 L1042 706.9 L1044 707.3 L1046 707.7 L1048 708.1 L1050 708.4 L1052 708.8 L1054 709.1 L1056 709.5 L1058 709.8 L1060 710.1 L1062 710.4 L1064 710.7 L1066 711 L1068 711.4 L1070 711.6 L1072 711.9 L1074 712.2 L1076 712.5 L1078 712.7 L1080 713 L1082 713.2 L1084 713.4 L1086 713.6 L1088 713.8 L1090 714 L1092 714.1 L1094 714.3 L1096 714.5 L1098 714.6 L1100 714.8 L1102 714.9 L1104 715 L1106 715.2 L1108 715.3 L1110 715.4 L1112 715.5 L1114 715.7 L1116 715.8 L1118 715.9 L1120 716 L1122 716.1 L1124 716.2 L1126 716.3 L1128 716.3 L1130 716.4 L1132 716.5 L1134 716.6 L1136 716.7 L1138 716.7 L1140 716.8 L1142 716.9 L1144 716.9 L1146 717 L1148 717.1 L1150 717.1 L1152 717.2 L1154 717.2 L1156 717.3 L1158 717.3 L1160 717.3 L1162 717.4 L1164 717.4 L1166 717.4 L1168 717.4 L1170 717.5 L1172 717.5 L1174 717.5 L1176 717.6 L1178 717.6 L1180 717.6 L1182 717.6 L1184 717.6 L1186 717.7 L1188 717.7 L1190 717.7 L1192 717.7 L1194 717.7 L1196 717.7 L1198 717.8 L1200 717.8 L1202 717.8 L1204 717.8 L1206 717.8 L1208 717.8 L1210 717.8 L1212 717.8 L1214 717.8 L1216 717.8 L1218 717.8 L1220 717.8 L1222 717.8 L1224 717.8 L1226 717.8 L1228 717.8 L1230 717.8 L1232 717.8 L1234 717.8 L1236 717.9 L1238 717.9 L1240 717.9 L1242 717.9 L1244 717.9 L1246 717.9 L1248 717.9 L1250 717.9 L1297.9 717.9 L1297.9 717.9 L410.9 717.9 Z" fill="#C29B2A" fill-opacity="0.7"/>
<path class="k" d="M733.8 717.9 V696.2"/>
<path class="k" d="M856.5 717.9 V674.6"/>
<path class="k" d="M1003.5 717.9 V700.6"/>
<path class="k kr" d="M410.9 717.9 L456 717.9 L458 717.9 L460 717.9 L462 717.9 L464 717.9 L466 717.9 L468 717.9 L470 717.8 L472 717.8 L474 717.8 L476 717.8 L478 717.8 L480 717.8 L482 717.8 L484 717.8 L486 717.8 L488 717.8 L490 717.8 L492 717.8 L494 717.8 L496 717.8 L498 717.8 L500 717.8 L502 717.8 L504 717.8 L506 717.8 L508 717.7 L510 717.7 L512 717.7 L514 717.7 L516 717.7 L518 717.7 L520 717.7 L522 717.7 L524 717.7 L526 717.7 L528 717.7 L530 717.7 L532 717.6 L534 717.6 L536 717.6 L538 717.6 L540 717.6 L542 717.6 L544 717.6 L546 717.6 L548 717.6 L550 717.5 L552 717.5 L554 717.5 L556 717.5 L558 717.4 L560 717.3 L562 717.3 L564 717.2 L566 717.1 L568 717.1 L570 717 L572 716.9 L574 716.8 L576 716.8 L578 716.7 L580 716.6 L582 716.5 L584 716.5 L586 716.4 L588 716.3 L590 716.2 L592 716.1 L594 716.1 L596 716 L598 715.9 L600 715.8 L602 715.7 L604 715.6 L606 715.5 L608 715.4 L610 715.3 L612 715.2 L614 715.1 L616 715 L618 714.9 L620 714.8 L622 714.7 L624 714.6 L626 714.5 L628 714.4 L630 714.3 L632 714.1 L634 714 L636 713.9 L638 713.7 L640 713.6 L642 713.4 L644 713.3 L646 713.1 L648 713 L650 712.8 L652 712.6 L654 712.4 L656 712.2 L658 712 L660 711.8 L662 711.5 L664 711.3 L666 711 L668 710.8 L670 710.5 L672 710.2 L674 709.9 L676 709.6 L678 709.3 L680 709 L682 708.7 L684 708.4 L686 708 L688 707.7 L690 707.3 L692 706.9 L694 706.5 L696 706.1 L698 705.7 L700 705.3 L702 704.8 L704 704.4 L706 703.9 L708 703.3 L710 702.8 L712 702.2 L714 701.7 L716 701.1 L718 700.5 L720 700 L722 699.4 L724 698.8 L726 698.3 L728 697.8 L730 697.2 L732 696.7 L734 696.1 L736 695.5 L738 694.9 L740 694.2 L742 693.5 L744 692.7 L746 692 L748 691.2 L750 690.4 L752 689.6 L754 688.9 L756 688.2 L758 687.5 L760 686.9 L762 686.3 L764 685.7 L766 685.2 L768 684.7 L770 684.2 L772 683.7 L774 683.2 L776 682.7 L778 682.3 L780 681.9 L782 681.5 L784 681.1 L786 680.8 L788 680.5 L790 680.2 L792 680 L794 679.7 L796 679.5 L798 679.3 L800 679.1 L802 678.9 L804 678.6 L806 678.4 L808 678.2 L810 677.9 L812 677.6 L814 677.3 L816 677 L818 676.6 L820 676.2 L822 675.9 L824 675.5 L826 675.2 L828 674.9 L830 674.7 L832 674.5 L834 674.3 L836 674.1 L838 673.9 L840 673.8 L842 673.7 L844 673.6 L846 673.6 L848 673.7 L850 673.8 L852 674 L854 674.2 L856 674.5 L858 674.8 L860 675.2 L862 675.7 L864 676.1 L866 676.7 L868 677.2 L870 677.6 L872 678 L874 678.3 L876 678.6 L878 678.9 L880 679.1 L882 679.3 L884 679.6 L886 679.7 L888 679.9 L890 680.1 L892 680.3 L894 680.4 L896 680.6 L898 680.8 L900 680.9 L902 681 L904 681.1 L906 681.2 L908 681.3 L910 681.4 L912 681.5 L914 681.6 L916 681.8 L918 681.9 L920 682 L922 682.2 L924 682.4 L926 682.6 L928 682.9 L930 683.3 L932 683.7 L934 684.1 L936 684.5 L938 685 L940 685.5 L942 686 L944 686.6 L946 687.1 L948 687.6 L950 688.1 L952 688.6 L954 689.2 L956 689.8 L958 690.4 L960 691 L962 691.7 L964 692.3 L966 692.9 L968 693.5 L970 694 L972 694.5 L974 695 L976 695.5 L978 695.9 L980 696.3 L982 696.7 L984 697.1 L986 697.5 L988 697.9 L990 698.3 L992 698.6 L994 699 L996 699.3 L998 699.7 L1000 700 L1002 700.3 L1004 700.7 L1006 701 L1008 701.3 L1010 701.6 L1012 701.9 L1014 702.2 L1016 702.6 L1018 702.9 L1020 703.2 L1022 703.5 L1024 703.8 L1026 704.1 L1028 704.5 L1030 704.8 L1032 705.1 L1034 705.5 L1036 705.8 L1038 706.2 L1040 706.6 L1042 706.9 L1044 707.3 L1046 707.7 L1048 708.1 L1050 708.4 L1052 708.8 L1054 709.1 L1056 709.5 L1058 709.8 L1060 710.1 L1062 710.4 L1064 710.7 L1066 711 L1068 711.4 L1070 711.6 L1072 711.9 L1074 712.2 L1076 712.5 L1078 712.7 L1080 713 L1082 713.2 L1084 713.4 L1086 713.6 L1088 713.8 L1090 714 L1092 714.1 L1094 714.3 L1096 714.5 L1098 714.6 L1100 714.8 L1102 714.9 L1104 715 L1106 715.2 L1108 715.3 L1110 715.4 L1112 715.5 L1114 715.7 L1116 715.8 L1118 715.9 L1120 716 L1122 716.1 L1124 716.2 L1126 716.3 L1128 716.3 L1130 716.4 L1132 716.5 L1134 716.6 L1136 716.7 L1138 716.7 L1140 716.8 L1142 716.9 L1144 716.9 L1146 717 L1148 717.1 L1150 717.1 L1152 717.2 L1154 717.2 L1156 717.3 L1158 717.3 L1160 717.3 L1162 717.4 L1164 717.4 L1166 717.4 L1168 717.4 L1170 717.5 L1172 717.5 L1174 717.5 L1176 717.6 L1178 717.6 L1180 717.6 L1182 717.6 L1184 717.6 L1186 717.7 L1188 717.7 L1190 717.7 L1192 717.7 L1194 717.7 L1196 717.7 L1198 717.8 L1200 717.8 L1202 717.8 L1204 717.8 L1206 717.8 L1208 717.8 L1210 717.8 L1212 717.8 L1214 717.8 L1216 717.8 L1218 717.8 L1220 717.8 L1222 717.8 L1224 717.8 L1226 717.8 L1228 717.8 L1230 717.8 L1232 717.8 L1234 717.8 L1236 717.9 L1238 717.9 L1240 717.9 L1242 717.9 L1244 717.9 L1246 717.9 L1248 717.9 L1250 717.9 L1297.9 717.9"/>
</g>
<g>
<path d="M410.9 776.9 L456 776.9 L458 776.9 L460 776.9 L462 776.9 L464 776.9 L466 776.9 L468 776.9 L470 776.9 L472 776.9 L474 776.9 L476 776.8 L478 776.8 L480 776.8 L482 776.8 L484 776.8 L486 776.8 L488 776.8 L490 776.8 L492 776.8 L494 776.8 L496 776.8 L498 776.8 L500 776.8 L502 776.8 L504 776.7 L506 776.7 L508 776.6 L510 776.5 L512 776.4 L514 776.3 L516 776.2 L518 776.1 L520 776 L522 775.9 L524 775.8 L526 775.7 L528 775.5 L530 775.4 L532 775.3 L534 775.2 L536 775.1 L538 775 L540 774.9 L542 774.8 L544 774.7 L546 774.5 L548 774.4 L550 774.3 L552 774.2 L554 774 L556 773.9 L558 773.8 L560 773.6 L562 773.5 L564 773.3 L566 773.1 L568 773 L570 772.8 L572 772.5 L574 772.3 L576 772 L578 771.8 L580 771.5 L582 771.2 L584 770.9 L586 770.5 L588 770.1 L590 769.8 L592 769.4 L594 768.9 L596 768.4 L598 767.9 L600 767.4 L602 766.8 L604 766.2 L606 765.7 L608 765.1 L610 764.5 L612 763.9 L614 763.3 L616 762.7 L618 762.1 L620 761.5 L622 760.8 L624 760.2 L626 759.5 L628 758.9 L630 758.2 L632 757.6 L634 757 L636 756.4 L638 755.8 L640 755.2 L642 754.6 L644 754 L646 753.4 L648 752.8 L650 752.1 L652 751.4 L654 750.6 L656 749.8 L658 749 L660 748.1 L662 747.3 L664 746.4 L666 745.5 L668 744.6 L670 743.7 L672 742.7 L674 741.8 L676 740.9 L678 739.9 L680 738.9 L682 737.9 L684 736.9 L686 735.8 L688 734.8 L690 733.7 L692 732.7 L694 731.7 L696 730.7 L698 729.8 L700 728.9 L702 728 L704 727.1 L706 726.2 L708 725.4 L710 724.7 L712 724 L714 723.5 L716 723 L718 722.5 L720 722.1 L722 721.8 L724 721.5 L726 721.3 L728 721.1 L730 720.9 L732 720.8 L734 720.7 L736 720.6 L738 720.7 L740 720.7 L742 720.8 L744 721 L746 721.1 L748 721.3 L750 721.4 L752 721.6 L754 721.8 L756 721.9 L758 722.1 L760 722.2 L762 722.3 L764 722.5 L766 722.6 L768 722.8 L770 723 L772 723.2 L774 723.4 L776 723.6 L778 723.9 L780 724.3 L782 724.7 L784 725.1 L786 725.5 L788 726 L790 726.5 L792 727 L794 727.5 L796 728 L798 728.6 L800 729.2 L802 729.8 L804 730.4 L806 731.1 L808 731.8 L810 732.6 L812 733.3 L814 734.1 L816 734.9 L818 735.7 L820 736.5 L822 737.2 L824 738 L826 738.7 L828 739.5 L830 740.2 L832 741 L834 741.7 L836 742.5 L838 743.3 L840 744 L842 744.8 L844 745.5 L846 746.2 L848 746.9 L850 747.6 L852 748.3 L854 749 L856 749.7 L858 750.3 L860 751 L862 751.6 L864 752.3 L866 752.9 L868 753.5 L870 754.1 L872 754.7 L874 755.3 L876 755.9 L878 756.5 L880 757.1 L882 757.7 L884 758.3 L886 758.9 L888 759.5 L890 760.1 L892 760.8 L894 761.4 L896 762 L898 762.6 L900 763.3 L902 763.9 L904 764.5 L906 765 L908 765.6 L910 766.1 L912 766.6 L914 767.1 L916 767.6 L918 768.1 L920 768.6 L922 769 L924 769.5 L926 769.9 L928 770.3 L930 770.7 L932 771.1 L934 771.4 L936 771.8 L938 772.1 L940 772.4 L942 772.8 L944 773.1 L946 773.3 L948 773.6 L950 773.9 L952 774.2 L954 774.4 L956 774.6 L958 774.8 L960 775 L962 775.2 L964 775.3 L966 775.5 L968 775.7 L970 775.8 L972 775.9 L974 776.1 L976 776.2 L978 776.3 L980 776.4 L982 776.5 L984 776.5 L986 776.6 L988 776.6 L990 776.7 L992 776.7 L994 776.7 L996 776.8 L998 776.8 L1000 776.8 L1002 776.9 L1004 776.9 L1006 776.9 L1297.9 776.9 L1297.9 776.9 L410.9 776.9 Z" fill="#E18929" fill-opacity="0.7"/>
<path class="k" d="M656 776.9 V749.8"/>
<path class="k" d="M755 776.9 V721.8"/>
<path class="k" d="M866 776.9 V752.9"/>
<path class="k kr" d="M410.9 776.9 L456 776.9 L458 776.9 L460 776.9 L462 776.9 L464 776.9 L466 776.9 L468 776.9 L470 776.9 L472 776.9 L474 776.9 L476 776.8 L478 776.8 L480 776.8 L482 776.8 L484 776.8 L486 776.8 L488 776.8 L490 776.8 L492 776.8 L494 776.8 L496 776.8 L498 776.8 L500 776.8 L502 776.8 L504 776.7 L506 776.7 L508 776.6 L510 776.5 L512 776.4 L514 776.3 L516 776.2 L518 776.1 L520 776 L522 775.9 L524 775.8 L526 775.7 L528 775.5 L530 775.4 L532 775.3 L534 775.2 L536 775.1 L538 775 L540 774.9 L542 774.8 L544 774.7 L546 774.5 L548 774.4 L550 774.3 L552 774.2 L554 774 L556 773.9 L558 773.8 L560 773.6 L562 773.5 L564 773.3 L566 773.1 L568 773 L570 772.8 L572 772.5 L574 772.3 L576 772 L578 771.8 L580 771.5 L582 771.2 L584 770.9 L586 770.5 L588 770.1 L590 769.8 L592 769.4 L594 768.9 L596 768.4 L598 767.9 L600 767.4 L602 766.8 L604 766.2 L606 765.7 L608 765.1 L610 764.5 L612 763.9 L614 763.3 L616 762.7 L618 762.1 L620 761.5 L622 760.8 L624 760.2 L626 759.5 L628 758.9 L630 758.2 L632 757.6 L634 757 L636 756.4 L638 755.8 L640 755.2 L642 754.6 L644 754 L646 753.4 L648 752.8 L650 752.1 L652 751.4 L654 750.6 L656 749.8 L658 749 L660 748.1 L662 747.3 L664 746.4 L666 745.5 L668 744.6 L670 743.7 L672 742.7 L674 741.8 L676 740.9 L678 739.9 L680 738.9 L682 737.9 L684 736.9 L686 735.8 L688 734.8 L690 733.7 L692 732.7 L694 731.7 L696 730.7 L698 729.8 L700 728.9 L702 728 L704 727.1 L706 726.2 L708 725.4 L710 724.7 L712 724 L714 723.5 L716 723 L718 722.5 L720 722.1 L722 721.8 L724 721.5 L726 721.3 L728 721.1 L730 720.9 L732 720.8 L734 720.7 L736 720.6 L738 720.7 L740 720.7 L742 720.8 L744 721 L746 721.1 L748 721.3 L750 721.4 L752 721.6 L754 721.8 L756 721.9 L758 722.1 L760 722.2 L762 722.3 L764 722.5 L766 722.6 L768 722.8 L770 723 L772 723.2 L774 723.4 L776 723.6 L778 723.9 L780 724.3 L782 724.7 L784 725.1 L786 725.5 L788 726 L790 726.5 L792 727 L794 727.5 L796 728 L798 728.6 L800 729.2 L802 729.8 L804 730.4 L806 731.1 L808 731.8 L810 732.6 L812 733.3 L814 734.1 L816 734.9 L818 735.7 L820 736.5 L822 737.2 L824 738 L826 738.7 L828 739.5 L830 740.2 L832 741 L834 741.7 L836 742.5 L838 743.3 L840 744 L842 744.8 L844 745.5 L846 746.2 L848 746.9 L850 747.6 L852 748.3 L854 749 L856 749.7 L858 750.3 L860 751 L862 751.6 L864 752.3 L866 752.9 L868 753.5 L870 754.1 L872 754.7 L874 755.3 L876 755.9 L878 756.5 L880 757.1 L882 757.7 L884 758.3 L886 758.9 L888 759.5 L890 760.1 L892 760.8 L894 761.4 L896 762 L898 762.6 L900 763.3 L902 763.9 L904 764.5 L906 765 L908 765.6 L910 766.1 L912 766.6 L914 767.1 L916 767.6 L918 768.1 L920 768.6 L922 769 L924 769.5 L926 769.9 L928 770.3 L930 770.7 L932 771.1 L934 771.4 L936 771.8 L938 772.1 L940 772.4 L942 772.8 L944 773.1 L946 773.3 L948 773.6 L950 773.9 L952 774.2 L954 774.4 L956 774.6 L958 774.8 L960 775 L962 775.2 L964 775.3 L966 775.5 L968 775.7 L970 775.8 L972 775.9 L974 776.1 L976 776.2 L978 776.3 L980 776.4 L982 776.5 L984 776.5 L986 776.6 L988 776.6 L990 776.7 L992 776.7 L994 776.7 L996 776.8 L998 776.8 L1000 776.8 L1002 776.9 L1004 776.9 L1006 776.9 L1297.9 776.9"/>
</g>
<g>
<path d="M410.9 835.9 L444 835.9 L446 835.9 L448 835.9 L450 835.9 L452 835.9 L454 835.9 L456 835.9 L458 835.8 L460 835.8 L462 835.8 L464 835.8 L466 835.8 L468 835.8 L470 835.8 L472 835.8 L474 835.8 L476 835.8 L478 835.8 L480 835.8 L482 835.8 L484 835.7 L486 835.7 L488 835.7 L490 835.7 L492 835.6 L494 835.6 L496 835.6 L498 835.5 L500 835.5 L502 835.4 L504 835.4 L506 835.3 L508 835.3 L510 835.2 L512 835.1 L514 835 L516 834.9 L518 834.7 L520 834.6 L522 834.5 L524 834.3 L526 834.1 L528 833.9 L530 833.7 L532 833.4 L534 833.1 L536 832.7 L538 832.4 L540 832 L542 831.6 L544 831.2 L546 830.8 L548 830.4 L550 830 L552 829.6 L554 829.2 L556 828.8 L558 828.3 L560 827.9 L562 827.5 L564 827 L566 826.6 L568 826.1 L570 825.6 L572 825.2 L574 824.7 L576 824.3 L578 823.8 L580 823.3 L582 822.9 L584 822.4 L586 821.9 L588 821.4 L590 821 L592 820.5 L594 820 L596 819.6 L598 819.2 L600 818.8 L602 818.4 L604 818 L606 817.6 L608 817.2 L610 816.9 L612 816.5 L614 816.2 L616 815.8 L618 815.5 L620 815.1 L622 814.8 L624 814.4 L626 814.1 L628 813.7 L630 813.3 L632 812.9 L634 812.4 L636 811.9 L638 811.3 L640 810.7 L642 810.1 L644 809.5 L646 808.8 L648 808.2 L650 807.5 L652 806.8 L654 806 L656 805.3 L658 804.5 L660 803.7 L662 802.9 L664 802 L666 801.2 L668 800.4 L670 799.5 L672 798.7 L674 797.9 L676 797.1 L678 796.3 L680 795.5 L682 794.7 L684 793.9 L686 793.1 L688 792.3 L690 791.5 L692 790.7 L694 790 L696 789.3 L698 788.6 L700 788 L702 787.4 L704 786.8 L706 786.2 L708 785.6 L710 785.1 L712 784.6 L714 784.3 L716 784 L718 783.7 L720 783.6 L722 783.5 L724 783.4 L726 783.3 L728 783.2 L730 783.1 L732 783.1 L734 783 L736 783 L738 783.1 L740 783.1 L742 783.2 L744 783.3 L746 783.3 L748 783.4 L750 783.5 L752 783.6 L754 783.6 L756 783.7 L758 783.8 L760 784 L762 784.1 L764 784.3 L766 784.6 L768 784.9 L770 785.3 L772 785.7 L774 786.2 L776 786.7 L778 787.2 L780 787.7 L782 788.3 L784 788.8 L786 789.4 L788 790 L790 790.7 L792 791.4 L794 792.1 L796 792.9 L798 793.7 L800 794.5 L802 795.3 L804 796.1 L806 796.9 L808 797.7 L810 798.5 L812 799.3 L814 800 L816 800.8 L818 801.6 L820 802.3 L822 803.1 L824 803.8 L826 804.6 L828 805.3 L830 806 L832 806.6 L834 807.3 L836 807.9 L838 808.4 L840 809 L842 809.5 L844 810 L846 810.4 L848 810.9 L850 811.4 L852 811.8 L854 812.3 L856 812.8 L858 813.3 L860 813.8 L862 814.3 L864 814.9 L866 815.5 L868 816.1 L870 816.7 L872 817.3 L874 817.9 L876 818.5 L878 819 L880 819.6 L882 820.2 L884 820.7 L886 821.2 L888 821.7 L890 822.2 L892 822.7 L894 823.2 L896 823.7 L898 824.1 L900 824.6 L902 825 L904 825.4 L906 825.8 L908 826.2 L910 826.6 L912 826.9 L914 827.2 L916 827.5 L918 827.8 L920 828 L922 828.3 L924 828.6 L926 828.8 L928 829 L930 829.3 L932 829.5 L934 829.8 L936 830 L938 830.3 L940 830.5 L942 830.8 L944 831 L946 831.3 L948 831.5 L950 831.8 L952 832 L954 832.2 L956 832.5 L958 832.7 L960 832.9 L962 833.1 L964 833.3 L966 833.5 L968 833.7 L970 833.9 L972 834 L974 834.2 L976 834.4 L978 834.5 L980 834.7 L982 834.8 L984 834.9 L986 835 L988 835.1 L990 835.2 L992 835.3 L994 835.3 L996 835.4 L998 835.5 L1000 835.6 L1002 835.6 L1004 835.7 L1006 835.7 L1008 835.7 L1010 835.7 L1012 835.7 L1014 835.8 L1016 835.8 L1018 835.8 L1020 835.8 L1022 835.8 L1024 835.8 L1026 835.8 L1028 835.8 L1030 835.8 L1032 835.8 L1034 835.8 L1036 835.8 L1038 835.8 L1040 835.8 L1042 835.8 L1044 835.8 L1046 835.8 L1048 835.8 L1050 835.8 L1052 835.8 L1054 835.8 L1056 835.8 L1058 835.8 L1060 835.8 L1062 835.8 L1064 835.8 L1066 835.8 L1068 835.8 L1070 835.8 L1072 835.8 L1074 835.8 L1076 835.8 L1078 835.8 L1080 835.8 L1082 835.8 L1084 835.8 L1086 835.8 L1088 835.8 L1090 835.8 L1092 835.8 L1094 835.8 L1096 835.8 L1098 835.8 L1100 835.8 L1102 835.8 L1104 835.8 L1106 835.8 L1108 835.8 L1110 835.9 L1112 835.9 L1114 835.9 L1116 835.9 L1118 835.9 L1120 835.9 L1122 835.9 L1124 835.9 L1126 835.9 L1128 835.9 L1130 835.9 L1132 835.9 L1134 835.9 L1136 835.9 L1138 835.9 L1140 835.9 L1142 835.9 L1144 835.9 L1297.9 835.9 L1297.9 835.9 L410.9 835.9 Z" fill="#F8766D" fill-opacity="0.7"/>
<path class="k" d="M630.5 835.9 V813.2"/>
<path class="k" d="M743.5 835.9 V783.2"/>
<path class="k" d="M859.8 835.9 V813.7"/>
<path class="k kr" d="M410.9 835.9 L444 835.9 L446 835.9 L448 835.9 L450 835.9 L452 835.9 L454 835.9 L456 835.9 L458 835.8 L460 835.8 L462 835.8 L464 835.8 L466 835.8 L468 835.8 L470 835.8 L472 835.8 L474 835.8 L476 835.8 L478 835.8 L480 835.8 L482 835.8 L484 835.7 L486 835.7 L488 835.7 L490 835.7 L492 835.6 L494 835.6 L496 835.6 L498 835.5 L500 835.5 L502 835.4 L504 835.4 L506 835.3 L508 835.3 L510 835.2 L512 835.1 L514 835 L516 834.9 L518 834.7 L520 834.6 L522 834.5 L524 834.3 L526 834.1 L528 833.9 L530 833.7 L532 833.4 L534 833.1 L536 832.7 L538 832.4 L540 832 L542 831.6 L544 831.2 L546 830.8 L548 830.4 L550 830 L552 829.6 L554 829.2 L556 828.8 L558 828.3 L560 827.9 L562 827.5 L564 827 L566 826.6 L568 826.1 L570 825.6 L572 825.2 L574 824.7 L576 824.3 L578 823.8 L580 823.3 L582 822.9 L584 822.4 L586 821.9 L588 821.4 L590 821 L592 820.5 L594 820 L596 819.6 L598 819.2 L600 818.8 L602 818.4 L604 818 L606 817.6 L608 817.2 L610 816.9 L612 816.5 L614 816.2 L616 815.8 L618 815.5 L620 815.1 L622 814.8 L624 814.4 L626 814.1 L628 813.7 L630 813.3 L632 812.9 L634 812.4 L636 811.9 L638 811.3 L640 810.7 L642 810.1 L644 809.5 L646 808.8 L648 808.2 L650 807.5 L652 806.8 L654 806 L656 805.3 L658 804.5 L660 803.7 L662 802.9 L664 802 L666 801.2 L668 800.4 L670 799.5 L672 798.7 L674 797.9 L676 797.1 L678 796.3 L680 795.5 L682 794.7 L684 793.9 L686 793.1 L688 792.3 L690 791.5 L692 790.7 L694 790 L696 789.3 L698 788.6 L700 788 L702 787.4 L704 786.8 L706 786.2 L708 785.6 L710 785.1 L712 784.6 L714 784.3 L716 784 L718 783.7 L720 783.6 L722 783.5 L724 783.4 L726 783.3 L728 783.2 L730 783.1 L732 783.1 L734 783 L736 783 L738 783.1 L740 783.1 L742 783.2 L744 783.3 L746 783.3 L748 783.4 L750 783.5 L752 783.6 L754 783.6 L756 783.7 L758 783.8 L760 784 L762 784.1 L764 784.3 L766 784.6 L768 784.9 L770 785.3 L772 785.7 L774 786.2 L776 786.7 L778 787.2 L780 787.7 L782 788.3 L784 788.8 L786 789.4 L788 790 L790 790.7 L792 791.4 L794 792.1 L796 792.9 L798 793.7 L800 794.5 L802 795.3 L804 796.1 L806 796.9 L808 797.7 L810 798.5 L812 799.3 L814 800 L816 800.8 L818 801.6 L820 802.3 L822 803.1 L824 803.8 L826 804.6 L828 805.3 L830 806 L832 806.6 L834 807.3 L836 807.9 L838 808.4 L840 809 L842 809.5 L844 810 L846 810.4 L848 810.9 L850 811.4 L852 811.8 L854 812.3 L856 812.8 L858 813.3 L860 813.8 L862 814.3 L864 814.9 L866 815.5 L868 816.1 L870 816.7 L872 817.3 L874 817.9 L876 818.5 L878 819 L880 819.6 L882 820.2 L884 820.7 L886 821.2 L888 821.7 L890 822.2 L892 822.7 L894 823.2 L896 823.7 L898 824.1 L900 824.6 L902 825 L904 825.4 L906 825.8 L908 826.2 L910 826.6 L912 826.9 L914 827.2 L916 827.5 L918 827.8 L920 828 L922 828.3 L924 828.6 L926 828.8 L928 829 L930 829.3 L932 829.5 L934 829.8 L936 830 L938 830.3 L940 830.5 L942 830.8 L944 831 L946 831.3 L948 831.5 L950 831.8 L952 832 L954 832.2 L956 832.5 L958 832.7 L960 832.9 L962 833.1 L964 833.3 L966 833.5 L968 833.7 L970 833.9 L972 834 L974 834.2 L976 834.4 L978 834.5 L980 834.7 L982 834.8 L984 834.9 L986 835 L988 835.1 L990 835.2 L992 835.3 L994 835.3 L996 835.4 L998 835.5 L1000 835.6 L1002 835.6 L1004 835.7 L1006 835.7 L1008 835.7 L1010 835.7 L1012 835.7 L1014 835.8 L1016 835.8 L1018 835.8 L1020 835.8 L1022 835.8 L1024 835.8 L1026 835.8 L1028 835.8 L1030 835.8 L1032 835.8 L1034 835.8 L1036 835.8 L1038 835.8 L1040 835.8 L1042 835.8 L1044 835.8 L1046 835.8 L1048 835.8 L1050 835.8 L1052 835.8 L1054 835.8 L1056 835.8 L1058 835.8 L1060 835.8 L1062 835.8 L1064 835.8 L1066 835.8 L1068 835.8 L1070 835.8 L1072 835.8 L1074 835.8 L1076 835.8 L1078 835.8 L1080 835.8 L1082 835.8 L1084 835.8 L1086 835.8 L1088 835.8 L1090 835.8 L1092 835.8 L1094 835.8 L1096 835.8 L1098 835.8 L1100 835.8 L1102 835.8 L1104 835.8 L1106 835.8 L1108 835.8 L1110 835.9 L1112 835.9 L1114 835.9 L1116 835.9 L1118 835.9 L1120 835.9 L1122 835.9 L1124 835.9 L1126 835.9 L1128 835.9 L1130 835.9 L1132 835.9 L1134 835.9 L1136 835.9 L1138 835.9 L1140 835.9 L1142 835.9 L1144 835.9 L1297.9 835.9"/>
</g>
</g>
<g clip-path="url(#q)" shape-rendering="crispEdges">
<path class="t" d="M1027.5 60.2 L1034.8 72.8 L1020.2 72.8 Z"/>
<path class="t" d="M962.2 119.2 L969.6 131.8 L954.9 131.8 Z"/>
<path class="t" d="M956.2 178.2 L963.6 190.8 L948.9 190.8 Z"/>
<path class="t" d="M897.2 237.2 L904.6 249.8 L889.9 249.8 Z"/>
<path class="t" d="M866.2 296.1 L873.6 308.8 L858.9 308.8 Z"/>
<path class="t" d="M858.8 355.1 L866.1 367.8 L851.4 367.8 Z"/>
<path class="t" d="M847.2 414.1 L854.6 426.8 L839.9 426.8 Z"/>
<path class="t" d="M816.8 473.1 L824.1 485.8 L809.4 485.8 Z"/>
<path class="t" d="M812.2 532.1 L819.6 544.8 L804.9 544.8 Z"/>
<path class="t" d="M795.8 591.1 L803.1 603.8 L788.4 603.8 Z"/>
<path class="t" d="M773.5 650.1 L780.8 662.8 L766.2 662.8 Z"/>
<path class="t" d="M773.5 709.1 L780.8 721.8 L766.2 721.8 Z"/>
<path class="t" d="M714.5 768.1 L721.8 780.8 L707.2 780.8 Z"/>
<path class="t" d="M688.6 827.1 L695.9 839.8 L681.3 839.8 Z"/>
</g>
<text class="yl" x="384" y="69">Limeira Jetsons</text>
<text class="yl" x="384" y="128">Indaiatuba Pats</text>
<text class="yl" x="384" y="187">Rio Claro Farmers</text>
<text class="yl" x="384" y="246">Paulinia Robots</text>
<text class="yl" x="384" y="305">Amparo Bikers</text>
<text class="yl" x="384" y="364">Sorocaba Steelers</text>
<text class="yl" x="384" y="423">Barao Butchers</text>
<text class="yl" x="384" y="482">Indaiatuba Blues</text>
<text class="yl" x="384" y="541">Sorocaba Wild Mules</text>
<text class="yl" x="384" y="601">Indaiatuba Riders</text>
<text class="yl" x="384" y="660">Campinas Giants</text>
<text class="yl" x="384" y="719">Holambra Dutch</text>
<text class="yl" x="384" y="778">London Knights</text>
<text class="yl" x="384" y="837">Limeira Dead Rabbits</text>
<text class="xl" transform="translate(549.5 877) scale(1 1.045)">50</text>
<text class="xl" transform="translate(753.8 877) scale(1 1.045)">100</text>
<text class="xl" transform="translate(958 877) scale(1 1.045)">150</text>
<text class="xl" transform="translate(1162.2 877) scale(1 1.045)">200</text>
<text class="xt" x="1306.5" y="930">points</text>
</svg></body></html>
